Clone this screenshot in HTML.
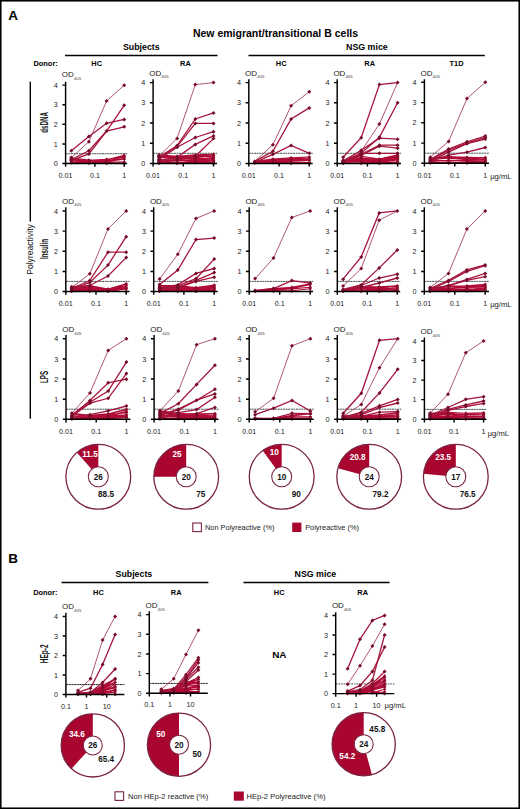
<!DOCTYPE html>
<html><head><meta charset="utf-8"><style>
html,body{margin:0;padding:0;background:#fff;}
body{width:520px;height:809px;overflow:hidden;font-family:"Liberation Sans", sans-serif;}
svg{display:block;}
</style></head><body>
<svg width="520" height="809" viewBox="0 0 520 809" font-family='"Liberation Sans", sans-serif'>
<rect x="0" y="0" width="520" height="809" fill="#fff"/>
<text x="8.2" y="20.2" font-size="13.5" font-weight="bold" fill="#000">A</text>
<text x="8.2" y="562.5" font-size="13.5" font-weight="bold" fill="#000">B</text>
<text x="275.5" y="37.2" font-size="10.5" font-weight="bold" text-anchor="middle" fill="#000">New emigrant/transitional B cells</text>
<text x="141.3" y="50.3" font-size="8.8" font-weight="bold" text-anchor="middle" fill="#000">Subjects</text>
<text x="366.9" y="50.3" font-size="8.8" font-weight="bold" text-anchor="middle" fill="#000">NSG mice</text>
<path d="M65 55.5H217.5M248.5 55.5H484.8M61.5 582.5H208.4M243.5 582.5H389.6" stroke="#000" stroke-width="1.5"/>
<text x="33.5" y="66.0" font-size="7.4" font-weight="bold" fill="#000">Donor:</text>
<text x="96.7" y="66.0" font-size="7.4" font-weight="bold" text-anchor="middle" fill="#000">HC</text>
<text x="185.4" y="66.0" font-size="7.4" font-weight="bold" text-anchor="middle" fill="#000">RA</text>
<text x="281.2" y="66.0" font-size="7.4" font-weight="bold" text-anchor="middle" fill="#000">HC</text>
<text x="369.7" y="66.0" font-size="7.4" font-weight="bold" text-anchor="middle" fill="#000">RA</text>
<text x="456.6" y="66.0" font-size="7.4" font-weight="bold" text-anchor="middle" fill="#000">T1D</text>
<path d="M30.3 81.7V221.6M30.3 278.8V418.8" stroke="#000" stroke-width="1.4"/>
<text transform="translate(32.6 249.5) rotate(-90)" font-size="8.6" text-anchor="middle" fill="#111">Polyreactivity</text>
<text transform="translate(47.9 122.4) rotate(-90) scale(0.575 1)" font-size="10.8" font-weight="bold" text-anchor="middle" fill="#111">dsDNA</text>
<text transform="translate(47.9 249) rotate(-90) scale(0.575 1)" font-size="10.8" font-weight="bold" text-anchor="middle" fill="#111">Insulin</text>
<text transform="translate(47.9 377) rotate(-90) scale(0.575 1)" font-size="10.8" font-weight="bold" text-anchor="middle" fill="#111">LPS</text>
<line x1="65.6" y1="153.7" x2="127.1" y2="153.7" stroke="#3a4541" stroke-width="0.95" stroke-dasharray="2 0.6"/>
<path d="M71.3 162.8L88.9 163.2L106.6 163.5L124.2 163.5M71.3 162.9L88.9 163.3L106.6 162.7L124.2 163.3M71.3 162.5L88.9 162.8L106.6 162.1L124.2 162.0M71.3 162.4L88.9 162.2L106.6 162.1L124.2 162.0M71.3 160.5L88.9 161.6L106.6 161.5L124.2 159.3M71.3 161.2L88.9 161.6L106.6 160.9L124.2 159.2M71.3 160.4L88.9 162.1L106.6 161.3L124.2 158.7M71.3 158.9L88.9 160.7L106.6 160.8L124.2 157.2M71.3 159.7L88.9 160.5L106.6 160.3L124.2 159.0M71.3 158.2L88.9 160.7L106.6 159.5L124.2 156.3M71.3 159.2L88.9 160.3L106.6 159.2L124.2 156.8M71.3 158.0L88.9 160.0L106.6 159.7L124.2 155.3" fill="none" stroke="#b00a36" stroke-width="1.15" stroke-linejoin="round"/>
<path d="M71.3 161.0l1.8 1.8l-1.8 1.8l-1.8 -1.8zM88.9 161.4l1.8 1.8l-1.8 1.8l-1.8 -1.8zM106.6 161.7l1.8 1.8l-1.8 1.8l-1.8 -1.8zM124.2 161.7l1.8 1.8l-1.8 1.8l-1.8 -1.8zM71.3 161.1l1.8 1.8l-1.8 1.8l-1.8 -1.8zM88.9 161.5l1.8 1.8l-1.8 1.8l-1.8 -1.8zM106.6 160.9l1.8 1.8l-1.8 1.8l-1.8 -1.8zM124.2 161.5l1.8 1.8l-1.8 1.8l-1.8 -1.8zM71.3 160.7l1.8 1.8l-1.8 1.8l-1.8 -1.8zM88.9 161.0l1.8 1.8l-1.8 1.8l-1.8 -1.8zM106.6 160.3l1.8 1.8l-1.8 1.8l-1.8 -1.8zM124.2 160.2l1.8 1.8l-1.8 1.8l-1.8 -1.8zM71.3 160.6l1.8 1.8l-1.8 1.8l-1.8 -1.8zM88.9 160.4l1.8 1.8l-1.8 1.8l-1.8 -1.8zM106.6 160.3l1.8 1.8l-1.8 1.8l-1.8 -1.8zM124.2 160.2l1.8 1.8l-1.8 1.8l-1.8 -1.8zM71.3 158.7l1.8 1.8l-1.8 1.8l-1.8 -1.8zM88.9 159.8l1.8 1.8l-1.8 1.8l-1.8 -1.8zM106.6 159.7l1.8 1.8l-1.8 1.8l-1.8 -1.8zM124.2 157.5l1.8 1.8l-1.8 1.8l-1.8 -1.8zM71.3 159.4l1.8 1.8l-1.8 1.8l-1.8 -1.8zM88.9 159.8l1.8 1.8l-1.8 1.8l-1.8 -1.8zM106.6 159.1l1.8 1.8l-1.8 1.8l-1.8 -1.8zM124.2 157.4l1.8 1.8l-1.8 1.8l-1.8 -1.8zM71.3 158.6l1.8 1.8l-1.8 1.8l-1.8 -1.8zM88.9 160.3l1.8 1.8l-1.8 1.8l-1.8 -1.8zM106.6 159.5l1.8 1.8l-1.8 1.8l-1.8 -1.8zM124.2 156.9l1.8 1.8l-1.8 1.8l-1.8 -1.8zM71.3 157.1l1.8 1.8l-1.8 1.8l-1.8 -1.8zM88.9 158.9l1.8 1.8l-1.8 1.8l-1.8 -1.8zM106.6 159.0l1.8 1.8l-1.8 1.8l-1.8 -1.8zM124.2 155.4l1.8 1.8l-1.8 1.8l-1.8 -1.8zM71.3 157.9l1.8 1.8l-1.8 1.8l-1.8 -1.8zM88.9 158.7l1.8 1.8l-1.8 1.8l-1.8 -1.8zM106.6 158.5l1.8 1.8l-1.8 1.8l-1.8 -1.8zM124.2 157.2l1.8 1.8l-1.8 1.8l-1.8 -1.8zM71.3 156.4l1.8 1.8l-1.8 1.8l-1.8 -1.8zM88.9 158.9l1.8 1.8l-1.8 1.8l-1.8 -1.8zM106.6 157.7l1.8 1.8l-1.8 1.8l-1.8 -1.8zM124.2 154.5l1.8 1.8l-1.8 1.8l-1.8 -1.8zM71.3 157.4l1.8 1.8l-1.8 1.8l-1.8 -1.8zM88.9 158.5l1.8 1.8l-1.8 1.8l-1.8 -1.8zM106.6 157.4l1.8 1.8l-1.8 1.8l-1.8 -1.8zM124.2 155.0l1.8 1.8l-1.8 1.8l-1.8 -1.8zM71.3 156.2l1.8 1.8l-1.8 1.8l-1.8 -1.8zM88.9 158.2l1.8 1.8l-1.8 1.8l-1.8 -1.8zM106.6 157.9l1.8 1.8l-1.8 1.8l-1.8 -1.8zM124.2 153.5l1.8 1.8l-1.8 1.8l-1.8 -1.8z" fill="#900a30"/>
<path d="M71.3 150.8L88.9 136.6L106.6 123.3L124.2 119.4" fill="none" stroke="#a5143c" stroke-width="1.3"/>
<path d="M71.3 157.6L88.9 141.7L106.6 101.0L124.2 85.3" fill="none" stroke="#9a2c4c" stroke-width="0.8"/>
<path d="M71.3 159.6L88.9 150.8L106.6 131.0L124.2 105.3" fill="none" stroke="#a5143c" stroke-width="1.3"/>
<path d="M71.3 160.6L88.9 153.9L106.6 131.0L124.2 126.8" fill="none" stroke="#a5143c" stroke-width="1.3"/>
<path d="M71.3 148.8l2.0 2.0l-2.0 2.0l-2.0 -2.0zM88.9 134.6l2.0 2.0l-2.0 2.0l-2.0 -2.0zM106.6 121.3l2.0 2.0l-2.0 2.0l-2.0 -2.0zM124.2 117.4l2.0 2.0l-2.0 2.0l-2.0 -2.0zM71.3 155.6l2.0 2.0l-2.0 2.0l-2.0 -2.0zM88.9 139.7l2.0 2.0l-2.0 2.0l-2.0 -2.0zM106.6 99.0l2.0 2.0l-2.0 2.0l-2.0 -2.0zM124.2 83.3l2.0 2.0l-2.0 2.0l-2.0 -2.0zM71.3 157.6l2.0 2.0l-2.0 2.0l-2.0 -2.0zM88.9 148.8l2.0 2.0l-2.0 2.0l-2.0 -2.0zM106.6 129.0l2.0 2.0l-2.0 2.0l-2.0 -2.0zM124.2 103.3l2.0 2.0l-2.0 2.0l-2.0 -2.0zM71.3 158.6l2.0 2.0l-2.0 2.0l-2.0 -2.0zM88.9 151.9l2.0 2.0l-2.0 2.0l-2.0 -2.0zM106.6 129.0l2.0 2.0l-2.0 2.0l-2.0 -2.0zM124.2 124.8l2.0 2.0l-2.0 2.0l-2.0 -2.0z" fill="#760c2c"/>
<path d="M65.6 81.7V166.7M62.4 163.5H127.1M62.4 143.9H65.6M62.4 124.3H65.6M62.4 104.7H65.6M62.4 85.1H65.6M94.9 163.5V166.7M124.2 163.5V166.7" stroke="#000" stroke-width="1.45" fill="none"/>
<text x="55.8" y="166.1" font-size="7.2" text-anchor="middle" fill="#222">0</text>
<text x="55.8" y="146.5" font-size="7.2" text-anchor="middle" fill="#222">1</text>
<text x="55.8" y="126.9" font-size="7.2" text-anchor="middle" fill="#222">2</text>
<text x="55.8" y="107.3" font-size="7.2" text-anchor="middle" fill="#222">3</text>
<text x="55.8" y="87.7" font-size="7.2" text-anchor="middle" fill="#222">4</text>
<text x="65.6" y="177.6" font-size="7.2" text-anchor="middle" fill="#222">0.01</text>
<text x="94.9" y="177.6" font-size="7.2" text-anchor="middle" fill="#222">0.1</text>
<text x="124.2" y="177.6" font-size="7.2" text-anchor="middle" fill="#222">1</text>
<text x="61.8" y="77.0" font-size="8" fill="#222">OD<tspan font-size="4.4" dy="2.8" fill="#444">405</tspan></text>
<line x1="153.1" y1="153.3" x2="217.1" y2="153.3" stroke="#3a4541" stroke-width="0.95" stroke-dasharray="2 0.6"/>
<path d="M159.0 163.4L177.1 162.5L195.3 162.6L213.5 163.4M159.0 162.8L177.1 163.1L195.3 162.4L213.5 161.8M159.0 163.4L177.1 163.4L195.3 161.2L213.5 162.4M159.0 160.9L177.1 163.3L195.3 161.9L213.5 160.9M159.0 162.0L177.1 160.4L195.3 159.9L213.5 162.5M159.0 162.0L177.1 160.9L195.3 159.2L213.5 160.8M159.0 160.9L177.1 160.8L195.3 161.4L213.5 160.7M159.0 159.6L177.1 160.1L195.3 160.3L213.5 160.0M159.0 159.7L177.1 159.7L195.3 159.5L213.5 160.1M159.0 157.3L177.1 159.0L195.3 157.9L213.5 159.0M159.0 156.2L177.1 157.8L195.3 158.9L213.5 157.9M159.0 156.5L177.1 157.7L195.3 155.8L213.5 157.0M159.0 155.6L177.1 157.3L195.3 157.2L213.5 155.8M159.0 154.9L177.1 156.4L195.3 156.0L213.5 155.2M159.0 156.9L177.1 157.5L195.3 154.9L213.5 155.2M159.0 155.9L177.1 156.3L195.3 154.9L213.5 154.3" fill="none" stroke="#b00a36" stroke-width="1.15" stroke-linejoin="round"/>
<path d="M159.0 161.6l1.8 1.8l-1.8 1.8l-1.8 -1.8zM177.1 160.7l1.8 1.8l-1.8 1.8l-1.8 -1.8zM195.3 160.8l1.8 1.8l-1.8 1.8l-1.8 -1.8zM213.5 161.6l1.8 1.8l-1.8 1.8l-1.8 -1.8zM159.0 161.0l1.8 1.8l-1.8 1.8l-1.8 -1.8zM177.1 161.3l1.8 1.8l-1.8 1.8l-1.8 -1.8zM195.3 160.6l1.8 1.8l-1.8 1.8l-1.8 -1.8zM213.5 160.0l1.8 1.8l-1.8 1.8l-1.8 -1.8zM159.0 161.6l1.8 1.8l-1.8 1.8l-1.8 -1.8zM177.1 161.6l1.8 1.8l-1.8 1.8l-1.8 -1.8zM195.3 159.4l1.8 1.8l-1.8 1.8l-1.8 -1.8zM213.5 160.6l1.8 1.8l-1.8 1.8l-1.8 -1.8zM159.0 159.1l1.8 1.8l-1.8 1.8l-1.8 -1.8zM177.1 161.5l1.8 1.8l-1.8 1.8l-1.8 -1.8zM195.3 160.1l1.8 1.8l-1.8 1.8l-1.8 -1.8zM213.5 159.1l1.8 1.8l-1.8 1.8l-1.8 -1.8zM159.0 160.2l1.8 1.8l-1.8 1.8l-1.8 -1.8zM177.1 158.6l1.8 1.8l-1.8 1.8l-1.8 -1.8zM195.3 158.1l1.8 1.8l-1.8 1.8l-1.8 -1.8zM213.5 160.7l1.8 1.8l-1.8 1.8l-1.8 -1.8zM159.0 160.2l1.8 1.8l-1.8 1.8l-1.8 -1.8zM177.1 159.1l1.8 1.8l-1.8 1.8l-1.8 -1.8zM195.3 157.4l1.8 1.8l-1.8 1.8l-1.8 -1.8zM213.5 159.0l1.8 1.8l-1.8 1.8l-1.8 -1.8zM159.0 159.1l1.8 1.8l-1.8 1.8l-1.8 -1.8zM177.1 159.0l1.8 1.8l-1.8 1.8l-1.8 -1.8zM195.3 159.6l1.8 1.8l-1.8 1.8l-1.8 -1.8zM213.5 158.9l1.8 1.8l-1.8 1.8l-1.8 -1.8zM159.0 157.8l1.8 1.8l-1.8 1.8l-1.8 -1.8zM177.1 158.3l1.8 1.8l-1.8 1.8l-1.8 -1.8zM195.3 158.5l1.8 1.8l-1.8 1.8l-1.8 -1.8zM213.5 158.2l1.8 1.8l-1.8 1.8l-1.8 -1.8zM159.0 157.9l1.8 1.8l-1.8 1.8l-1.8 -1.8zM177.1 157.9l1.8 1.8l-1.8 1.8l-1.8 -1.8zM195.3 157.7l1.8 1.8l-1.8 1.8l-1.8 -1.8zM213.5 158.3l1.8 1.8l-1.8 1.8l-1.8 -1.8zM159.0 155.5l1.8 1.8l-1.8 1.8l-1.8 -1.8zM177.1 157.2l1.8 1.8l-1.8 1.8l-1.8 -1.8zM195.3 156.1l1.8 1.8l-1.8 1.8l-1.8 -1.8zM213.5 157.2l1.8 1.8l-1.8 1.8l-1.8 -1.8zM159.0 154.4l1.8 1.8l-1.8 1.8l-1.8 -1.8zM177.1 156.0l1.8 1.8l-1.8 1.8l-1.8 -1.8zM195.3 157.1l1.8 1.8l-1.8 1.8l-1.8 -1.8zM213.5 156.1l1.8 1.8l-1.8 1.8l-1.8 -1.8zM159.0 154.7l1.8 1.8l-1.8 1.8l-1.8 -1.8zM177.1 155.9l1.8 1.8l-1.8 1.8l-1.8 -1.8zM195.3 154.0l1.8 1.8l-1.8 1.8l-1.8 -1.8zM213.5 155.2l1.8 1.8l-1.8 1.8l-1.8 -1.8zM159.0 153.8l1.8 1.8l-1.8 1.8l-1.8 -1.8zM177.1 155.5l1.8 1.8l-1.8 1.8l-1.8 -1.8zM195.3 155.4l1.8 1.8l-1.8 1.8l-1.8 -1.8zM213.5 154.0l1.8 1.8l-1.8 1.8l-1.8 -1.8zM159.0 153.1l1.8 1.8l-1.8 1.8l-1.8 -1.8zM177.1 154.6l1.8 1.8l-1.8 1.8l-1.8 -1.8zM195.3 154.2l1.8 1.8l-1.8 1.8l-1.8 -1.8zM213.5 153.4l1.8 1.8l-1.8 1.8l-1.8 -1.8zM159.0 155.1l1.8 1.8l-1.8 1.8l-1.8 -1.8zM177.1 155.7l1.8 1.8l-1.8 1.8l-1.8 -1.8zM195.3 153.1l1.8 1.8l-1.8 1.8l-1.8 -1.8zM213.5 153.4l1.8 1.8l-1.8 1.8l-1.8 -1.8zM159.0 154.1l1.8 1.8l-1.8 1.8l-1.8 -1.8zM177.1 154.5l1.8 1.8l-1.8 1.8l-1.8 -1.8zM195.3 153.1l1.8 1.8l-1.8 1.8l-1.8 -1.8zM213.5 152.5l1.8 1.8l-1.8 1.8l-1.8 -1.8z" fill="#900a30"/>
<path d="M159.0 156.3L177.1 138.4L195.3 84.6L213.5 82.6" fill="none" stroke="#9a2c4c" stroke-width="0.8"/>
<path d="M159.0 157.3L177.1 145.6L195.3 119.0L213.5 112.9" fill="none" stroke="#a5143c" stroke-width="1.3"/>
<path d="M159.0 157.3L177.1 146.6L195.3 123.4L213.5 123.4" fill="none" stroke="#a5143c" stroke-width="1.3"/>
<path d="M159.0 159.4L177.1 147.2L195.3 137.5L213.5 131.7" fill="none" stroke="#a5143c" stroke-width="1.3"/>
<path d="M159.0 160.4L177.1 157.3L195.3 144.4L213.5 135.9" fill="none" stroke="#a5143c" stroke-width="1.3"/>
<path d="M159.0 161.4L177.1 159.4L195.3 156.3L213.5 138.6" fill="none" stroke="#a5143c" stroke-width="1.3"/>
<path d="M159.0 154.3l2.0 2.0l-2.0 2.0l-2.0 -2.0zM177.1 136.4l2.0 2.0l-2.0 2.0l-2.0 -2.0zM195.3 82.6l2.0 2.0l-2.0 2.0l-2.0 -2.0zM213.5 80.6l2.0 2.0l-2.0 2.0l-2.0 -2.0zM159.0 155.3l2.0 2.0l-2.0 2.0l-2.0 -2.0zM177.1 143.6l2.0 2.0l-2.0 2.0l-2.0 -2.0zM195.3 117.0l2.0 2.0l-2.0 2.0l-2.0 -2.0zM213.5 110.9l2.0 2.0l-2.0 2.0l-2.0 -2.0zM159.0 155.3l2.0 2.0l-2.0 2.0l-2.0 -2.0zM177.1 144.6l2.0 2.0l-2.0 2.0l-2.0 -2.0zM195.3 121.4l2.0 2.0l-2.0 2.0l-2.0 -2.0zM213.5 121.4l2.0 2.0l-2.0 2.0l-2.0 -2.0zM159.0 157.4l2.0 2.0l-2.0 2.0l-2.0 -2.0zM177.1 145.2l2.0 2.0l-2.0 2.0l-2.0 -2.0zM195.3 135.5l2.0 2.0l-2.0 2.0l-2.0 -2.0zM213.5 129.7l2.0 2.0l-2.0 2.0l-2.0 -2.0zM159.0 158.4l2.0 2.0l-2.0 2.0l-2.0 -2.0zM177.1 155.3l2.0 2.0l-2.0 2.0l-2.0 -2.0zM195.3 142.4l2.0 2.0l-2.0 2.0l-2.0 -2.0zM213.5 133.9l2.0 2.0l-2.0 2.0l-2.0 -2.0zM159.0 159.4l2.0 2.0l-2.0 2.0l-2.0 -2.0zM177.1 157.4l2.0 2.0l-2.0 2.0l-2.0 -2.0zM195.3 154.3l2.0 2.0l-2.0 2.0l-2.0 -2.0zM213.5 136.6l2.0 2.0l-2.0 2.0l-2.0 -2.0z" fill="#760c2c"/>
<path d="M153.1 79.2V166.6M149.9 163.4H217.1M149.9 143.2H153.1M149.9 123.0H153.1M149.9 102.8H153.1M149.9 82.6H153.1M183.3 163.4V166.6M213.5 163.4V166.6" stroke="#000" stroke-width="1.45" fill="none"/>
<text x="143.3" y="166.0" font-size="7.2" text-anchor="middle" fill="#222">0</text>
<text x="143.3" y="145.8" font-size="7.2" text-anchor="middle" fill="#222">1</text>
<text x="143.3" y="125.6" font-size="7.2" text-anchor="middle" fill="#222">2</text>
<text x="143.3" y="105.4" font-size="7.2" text-anchor="middle" fill="#222">3</text>
<text x="143.3" y="85.2" font-size="7.2" text-anchor="middle" fill="#222">4</text>
<text x="153.1" y="177.6" font-size="7.2" text-anchor="middle" fill="#222">0.01</text>
<text x="183.3" y="177.6" font-size="7.2" text-anchor="middle" fill="#222">0.1</text>
<text x="213.5" y="177.6" font-size="7.2" text-anchor="middle" fill="#222">1</text>
<text x="149.3" y="75.6" font-size="8" fill="#222">OD<tspan font-size="4.4" dy="2.8" fill="#444">405</tspan></text>
<line x1="248.8" y1="153.3" x2="312.7" y2="153.3" stroke="#3a4541" stroke-width="0.95" stroke-dasharray="2 0.6"/>
<path d="M254.7 163.1L272.9 162.7L291.1 163.4L309.3 163.4M254.7 162.9L272.9 162.5L291.1 162.3L309.3 163.0M254.7 162.8L272.9 162.1L291.1 161.8L309.3 162.5M254.7 162.7L272.9 161.9L291.1 160.8L309.3 159.5M254.7 162.1L272.9 161.1L291.1 160.7L309.3 160.5M254.7 162.5L272.9 161.4L291.1 159.9L309.3 159.4M254.7 162.0L272.9 159.4L291.1 159.1L309.3 157.9M254.7 161.8L272.9 160.3L291.1 158.8L309.3 158.1M254.7 161.4L272.9 159.0L291.1 157.7L309.3 157.1" fill="none" stroke="#b00a36" stroke-width="1.15" stroke-linejoin="round"/>
<path d="M254.7 161.3l1.8 1.8l-1.8 1.8l-1.8 -1.8zM272.9 160.9l1.8 1.8l-1.8 1.8l-1.8 -1.8zM291.1 161.6l1.8 1.8l-1.8 1.8l-1.8 -1.8zM309.3 161.6l1.8 1.8l-1.8 1.8l-1.8 -1.8zM254.7 161.1l1.8 1.8l-1.8 1.8l-1.8 -1.8zM272.9 160.7l1.8 1.8l-1.8 1.8l-1.8 -1.8zM291.1 160.5l1.8 1.8l-1.8 1.8l-1.8 -1.8zM309.3 161.2l1.8 1.8l-1.8 1.8l-1.8 -1.8zM254.7 161.0l1.8 1.8l-1.8 1.8l-1.8 -1.8zM272.9 160.3l1.8 1.8l-1.8 1.8l-1.8 -1.8zM291.1 160.0l1.8 1.8l-1.8 1.8l-1.8 -1.8zM309.3 160.7l1.8 1.8l-1.8 1.8l-1.8 -1.8zM254.7 160.9l1.8 1.8l-1.8 1.8l-1.8 -1.8zM272.9 160.1l1.8 1.8l-1.8 1.8l-1.8 -1.8zM291.1 159.0l1.8 1.8l-1.8 1.8l-1.8 -1.8zM309.3 157.7l1.8 1.8l-1.8 1.8l-1.8 -1.8zM254.7 160.3l1.8 1.8l-1.8 1.8l-1.8 -1.8zM272.9 159.3l1.8 1.8l-1.8 1.8l-1.8 -1.8zM291.1 158.9l1.8 1.8l-1.8 1.8l-1.8 -1.8zM309.3 158.7l1.8 1.8l-1.8 1.8l-1.8 -1.8zM254.7 160.7l1.8 1.8l-1.8 1.8l-1.8 -1.8zM272.9 159.6l1.8 1.8l-1.8 1.8l-1.8 -1.8zM291.1 158.1l1.8 1.8l-1.8 1.8l-1.8 -1.8zM309.3 157.6l1.8 1.8l-1.8 1.8l-1.8 -1.8zM254.7 160.2l1.8 1.8l-1.8 1.8l-1.8 -1.8zM272.9 157.6l1.8 1.8l-1.8 1.8l-1.8 -1.8zM291.1 157.3l1.8 1.8l-1.8 1.8l-1.8 -1.8zM309.3 156.1l1.8 1.8l-1.8 1.8l-1.8 -1.8zM254.7 160.0l1.8 1.8l-1.8 1.8l-1.8 -1.8zM272.9 158.5l1.8 1.8l-1.8 1.8l-1.8 -1.8zM291.1 157.0l1.8 1.8l-1.8 1.8l-1.8 -1.8zM309.3 156.3l1.8 1.8l-1.8 1.8l-1.8 -1.8zM254.7 159.6l1.8 1.8l-1.8 1.8l-1.8 -1.8zM272.9 157.2l1.8 1.8l-1.8 1.8l-1.8 -1.8zM291.1 155.9l1.8 1.8l-1.8 1.8l-1.8 -1.8zM309.3 155.3l1.8 1.8l-1.8 1.8l-1.8 -1.8z" fill="#900a30"/>
<path d="M254.7 161.4L272.9 144.8L291.1 105.8L309.3 91.7" fill="none" stroke="#9a2c4c" stroke-width="0.8"/>
<path d="M254.7 161.4L272.9 151.3L291.1 119.0L309.3 107.9" fill="none" stroke="#a5143c" stroke-width="1.3"/>
<path d="M254.7 162.4L272.9 154.3L291.1 145.4L309.3 153.3" fill="none" stroke="#a5143c" stroke-width="1.3"/>
<path d="M254.7 159.4l2.0 2.0l-2.0 2.0l-2.0 -2.0zM272.9 142.8l2.0 2.0l-2.0 2.0l-2.0 -2.0zM291.1 103.8l2.0 2.0l-2.0 2.0l-2.0 -2.0zM309.3 89.7l2.0 2.0l-2.0 2.0l-2.0 -2.0zM254.7 159.4l2.0 2.0l-2.0 2.0l-2.0 -2.0zM272.9 149.3l2.0 2.0l-2.0 2.0l-2.0 -2.0zM291.1 117.0l2.0 2.0l-2.0 2.0l-2.0 -2.0zM309.3 105.9l2.0 2.0l-2.0 2.0l-2.0 -2.0zM254.7 160.4l2.0 2.0l-2.0 2.0l-2.0 -2.0zM272.9 152.3l2.0 2.0l-2.0 2.0l-2.0 -2.0zM291.1 143.4l2.0 2.0l-2.0 2.0l-2.0 -2.0zM309.3 151.3l2.0 2.0l-2.0 2.0l-2.0 -2.0z" fill="#760c2c"/>
<path d="M248.8 79.2V166.6M245.6 163.4H312.7M245.6 143.2H248.8M245.6 123.0H248.8M245.6 102.8H248.8M245.6 82.6H248.8M279.1 163.4V166.6M309.3 163.4V166.6" stroke="#000" stroke-width="1.45" fill="none"/>
<text x="239.0" y="166.0" font-size="7.2" text-anchor="middle" fill="#222">0</text>
<text x="239.0" y="145.8" font-size="7.2" text-anchor="middle" fill="#222">1</text>
<text x="239.0" y="125.6" font-size="7.2" text-anchor="middle" fill="#222">2</text>
<text x="239.0" y="105.4" font-size="7.2" text-anchor="middle" fill="#222">3</text>
<text x="239.0" y="85.2" font-size="7.2" text-anchor="middle" fill="#222">4</text>
<text x="248.8" y="177.6" font-size="7.2" text-anchor="middle" fill="#222">0.01</text>
<text x="279.1" y="177.6" font-size="7.2" text-anchor="middle" fill="#222">0.1</text>
<text x="309.3" y="177.6" font-size="7.2" text-anchor="middle" fill="#222">1</text>
<text x="245.0" y="75.6" font-size="8" fill="#222">OD<tspan font-size="4.4" dy="2.8" fill="#444">405</tspan></text>
<line x1="337.2" y1="153.3" x2="401.0" y2="153.3" stroke="#3a4541" stroke-width="0.95" stroke-dasharray="2 0.6"/>
<path d="M343.1 163.4L361.2 163.3L379.4 163.4L397.6 163.1M343.1 163.0L361.2 163.4L379.4 163.4L397.6 161.7M343.1 163.2L361.2 163.0L379.4 161.9L397.6 162.2M343.1 162.3L361.2 161.8L379.4 162.2L397.6 162.5M343.1 162.3L361.2 160.3L379.4 162.0L397.6 160.1M343.1 162.0L361.2 161.8L379.4 161.3L397.6 159.9M343.1 162.2L361.2 161.3L379.4 160.8L397.6 159.6M343.1 161.5L361.2 158.6L379.4 160.7L397.6 157.5M343.1 161.6L361.2 158.3L379.4 160.8L397.6 156.8M343.1 160.9L361.2 159.5L379.4 160.9L397.6 158.4M343.1 160.6L361.2 158.1L379.4 159.8L397.6 157.5M343.1 160.8L361.2 157.7L379.4 159.9L397.6 156.0M343.1 160.5L361.2 156.3L379.4 159.0L397.6 154.9M343.1 160.4L361.2 156.3L379.4 159.0L397.6 155.9" fill="none" stroke="#b00a36" stroke-width="1.15" stroke-linejoin="round"/>
<path d="M343.1 161.6l1.8 1.8l-1.8 1.8l-1.8 -1.8zM361.2 161.5l1.8 1.8l-1.8 1.8l-1.8 -1.8zM379.4 161.6l1.8 1.8l-1.8 1.8l-1.8 -1.8zM397.6 161.3l1.8 1.8l-1.8 1.8l-1.8 -1.8zM343.1 161.2l1.8 1.8l-1.8 1.8l-1.8 -1.8zM361.2 161.6l1.8 1.8l-1.8 1.8l-1.8 -1.8zM379.4 161.6l1.8 1.8l-1.8 1.8l-1.8 -1.8zM397.6 159.9l1.8 1.8l-1.8 1.8l-1.8 -1.8zM343.1 161.4l1.8 1.8l-1.8 1.8l-1.8 -1.8zM361.2 161.2l1.8 1.8l-1.8 1.8l-1.8 -1.8zM379.4 160.1l1.8 1.8l-1.8 1.8l-1.8 -1.8zM397.6 160.4l1.8 1.8l-1.8 1.8l-1.8 -1.8zM343.1 160.5l1.8 1.8l-1.8 1.8l-1.8 -1.8zM361.2 160.0l1.8 1.8l-1.8 1.8l-1.8 -1.8zM379.4 160.4l1.8 1.8l-1.8 1.8l-1.8 -1.8zM397.6 160.7l1.8 1.8l-1.8 1.8l-1.8 -1.8zM343.1 160.5l1.8 1.8l-1.8 1.8l-1.8 -1.8zM361.2 158.5l1.8 1.8l-1.8 1.8l-1.8 -1.8zM379.4 160.2l1.8 1.8l-1.8 1.8l-1.8 -1.8zM397.6 158.3l1.8 1.8l-1.8 1.8l-1.8 -1.8zM343.1 160.2l1.8 1.8l-1.8 1.8l-1.8 -1.8zM361.2 160.0l1.8 1.8l-1.8 1.8l-1.8 -1.8zM379.4 159.5l1.8 1.8l-1.8 1.8l-1.8 -1.8zM397.6 158.1l1.8 1.8l-1.8 1.8l-1.8 -1.8zM343.1 160.4l1.8 1.8l-1.8 1.8l-1.8 -1.8zM361.2 159.5l1.8 1.8l-1.8 1.8l-1.8 -1.8zM379.4 159.0l1.8 1.8l-1.8 1.8l-1.8 -1.8zM397.6 157.8l1.8 1.8l-1.8 1.8l-1.8 -1.8zM343.1 159.7l1.8 1.8l-1.8 1.8l-1.8 -1.8zM361.2 156.8l1.8 1.8l-1.8 1.8l-1.8 -1.8zM379.4 158.9l1.8 1.8l-1.8 1.8l-1.8 -1.8zM397.6 155.7l1.8 1.8l-1.8 1.8l-1.8 -1.8zM343.1 159.8l1.8 1.8l-1.8 1.8l-1.8 -1.8zM361.2 156.5l1.8 1.8l-1.8 1.8l-1.8 -1.8zM379.4 159.0l1.8 1.8l-1.8 1.8l-1.8 -1.8zM397.6 155.0l1.8 1.8l-1.8 1.8l-1.8 -1.8zM343.1 159.1l1.8 1.8l-1.8 1.8l-1.8 -1.8zM361.2 157.7l1.8 1.8l-1.8 1.8l-1.8 -1.8zM379.4 159.1l1.8 1.8l-1.8 1.8l-1.8 -1.8zM397.6 156.6l1.8 1.8l-1.8 1.8l-1.8 -1.8zM343.1 158.8l1.8 1.8l-1.8 1.8l-1.8 -1.8zM361.2 156.3l1.8 1.8l-1.8 1.8l-1.8 -1.8zM379.4 158.0l1.8 1.8l-1.8 1.8l-1.8 -1.8zM397.6 155.7l1.8 1.8l-1.8 1.8l-1.8 -1.8zM343.1 159.0l1.8 1.8l-1.8 1.8l-1.8 -1.8zM361.2 155.9l1.8 1.8l-1.8 1.8l-1.8 -1.8zM379.4 158.1l1.8 1.8l-1.8 1.8l-1.8 -1.8zM397.6 154.2l1.8 1.8l-1.8 1.8l-1.8 -1.8zM343.1 158.7l1.8 1.8l-1.8 1.8l-1.8 -1.8zM361.2 154.5l1.8 1.8l-1.8 1.8l-1.8 -1.8zM379.4 157.2l1.8 1.8l-1.8 1.8l-1.8 -1.8zM397.6 153.1l1.8 1.8l-1.8 1.8l-1.8 -1.8zM343.1 158.6l1.8 1.8l-1.8 1.8l-1.8 -1.8zM361.2 154.5l1.8 1.8l-1.8 1.8l-1.8 -1.8zM379.4 157.2l1.8 1.8l-1.8 1.8l-1.8 -1.8zM397.6 154.1l1.8 1.8l-1.8 1.8l-1.8 -1.8z" fill="#900a30"/>
<path d="M343.1 157.3L361.2 137.7L379.4 84.6L397.6 82.6" fill="none" stroke="#a5143c" stroke-width="1.3"/>
<path d="M343.1 160.4L361.2 151.3L379.4 124.0L397.6 82.6" fill="none" stroke="#9a2c4c" stroke-width="0.8"/>
<path d="M343.1 161.4L361.2 153.3L379.4 137.3L397.6 102.8" fill="none" stroke="#a5143c" stroke-width="1.3"/>
<path d="M343.1 161.4L361.2 150.3L379.4 138.2L397.6 139.2" fill="none" stroke="#a5143c" stroke-width="1.3"/>
<path d="M343.1 161.4L361.2 154.3L379.4 145.2L397.6 145.2" fill="none" stroke="#a5143c" stroke-width="1.3"/>
<path d="M343.1 161.4L361.2 155.3L379.4 146.2L397.6 148.2" fill="none" stroke="#a5143c" stroke-width="1.3"/>
<path d="M343.1 162.4L361.2 153.3L379.4 153.3L397.6 153.3" fill="none" stroke="#a5143c" stroke-width="1.3"/>
<path d="M343.1 155.3l2.0 2.0l-2.0 2.0l-2.0 -2.0zM361.2 135.7l2.0 2.0l-2.0 2.0l-2.0 -2.0zM379.4 82.6l2.0 2.0l-2.0 2.0l-2.0 -2.0zM397.6 80.6l2.0 2.0l-2.0 2.0l-2.0 -2.0zM343.1 158.4l2.0 2.0l-2.0 2.0l-2.0 -2.0zM361.2 149.3l2.0 2.0l-2.0 2.0l-2.0 -2.0zM379.4 122.0l2.0 2.0l-2.0 2.0l-2.0 -2.0zM397.6 80.6l2.0 2.0l-2.0 2.0l-2.0 -2.0zM343.1 159.4l2.0 2.0l-2.0 2.0l-2.0 -2.0zM361.2 151.3l2.0 2.0l-2.0 2.0l-2.0 -2.0zM379.4 135.3l2.0 2.0l-2.0 2.0l-2.0 -2.0zM397.6 100.8l2.0 2.0l-2.0 2.0l-2.0 -2.0zM343.1 159.4l2.0 2.0l-2.0 2.0l-2.0 -2.0zM361.2 148.3l2.0 2.0l-2.0 2.0l-2.0 -2.0zM379.4 136.2l2.0 2.0l-2.0 2.0l-2.0 -2.0zM397.6 137.2l2.0 2.0l-2.0 2.0l-2.0 -2.0zM343.1 159.4l2.0 2.0l-2.0 2.0l-2.0 -2.0zM361.2 152.3l2.0 2.0l-2.0 2.0l-2.0 -2.0zM379.4 143.2l2.0 2.0l-2.0 2.0l-2.0 -2.0zM397.6 143.2l2.0 2.0l-2.0 2.0l-2.0 -2.0zM343.1 159.4l2.0 2.0l-2.0 2.0l-2.0 -2.0zM361.2 153.3l2.0 2.0l-2.0 2.0l-2.0 -2.0zM379.4 144.2l2.0 2.0l-2.0 2.0l-2.0 -2.0zM397.6 146.2l2.0 2.0l-2.0 2.0l-2.0 -2.0zM343.1 160.4l2.0 2.0l-2.0 2.0l-2.0 -2.0zM361.2 151.3l2.0 2.0l-2.0 2.0l-2.0 -2.0zM379.4 151.3l2.0 2.0l-2.0 2.0l-2.0 -2.0zM397.6 151.3l2.0 2.0l-2.0 2.0l-2.0 -2.0z" fill="#760c2c"/>
<path d="M337.2 79.2V166.6M334.0 163.4H401.0M334.0 143.2H337.2M334.0 123.0H337.2M334.0 102.8H337.2M334.0 82.6H337.2M367.4 163.4V166.6M397.6 163.4V166.6" stroke="#000" stroke-width="1.45" fill="none"/>
<text x="327.4" y="166.0" font-size="7.2" text-anchor="middle" fill="#222">0</text>
<text x="327.4" y="145.8" font-size="7.2" text-anchor="middle" fill="#222">1</text>
<text x="327.4" y="125.6" font-size="7.2" text-anchor="middle" fill="#222">2</text>
<text x="327.4" y="105.4" font-size="7.2" text-anchor="middle" fill="#222">3</text>
<text x="327.4" y="85.2" font-size="7.2" text-anchor="middle" fill="#222">4</text>
<text x="337.2" y="177.6" font-size="7.2" text-anchor="middle" fill="#222">0.01</text>
<text x="367.4" y="177.6" font-size="7.2" text-anchor="middle" fill="#222">0.1</text>
<text x="397.6" y="177.6" font-size="7.2" text-anchor="middle" fill="#222">1</text>
<text x="333.4" y="75.6" font-size="8" fill="#222">OD<tspan font-size="4.4" dy="2.8" fill="#444">405</tspan></text>
<line x1="424.4" y1="153.2" x2="489.0" y2="153.2" stroke="#3a4541" stroke-width="0.95" stroke-dasharray="2 0.6"/>
<path d="M430.3 163.3L448.6 163.3L467.0 163.3L485.3 163.3M430.3 163.3L448.6 163.0L467.0 161.9L485.3 162.2M430.3 162.0L448.6 162.9L467.0 162.3L485.3 162.9M430.3 162.7L448.6 162.7L467.0 162.5L485.3 161.0M430.3 161.1L448.6 160.3L467.0 160.8L485.3 162.1M430.3 161.7L448.6 160.3L467.0 160.5L485.3 160.2M430.3 160.3L448.6 161.1L467.0 160.3L485.3 160.1M430.3 160.6L448.6 160.3L467.0 160.1L485.3 160.9M430.3 159.4L448.6 158.0L467.0 159.5L485.3 160.0M430.3 159.1L448.6 158.2L467.0 158.3L485.3 158.3M430.3 159.4L448.6 158.1L467.0 158.4L485.3 158.8M430.3 159.6L448.6 157.8L467.0 157.5L485.3 159.2M430.3 159.5L448.6 156.4L467.0 158.2L485.3 157.6M430.3 158.3L448.6 156.6L467.0 157.2L485.3 157.9" fill="none" stroke="#b00a36" stroke-width="1.15" stroke-linejoin="round"/>
<path d="M430.3 161.5l1.8 1.8l-1.8 1.8l-1.8 -1.8zM448.6 161.5l1.8 1.8l-1.8 1.8l-1.8 -1.8zM467.0 161.5l1.8 1.8l-1.8 1.8l-1.8 -1.8zM485.3 161.5l1.8 1.8l-1.8 1.8l-1.8 -1.8zM430.3 161.5l1.8 1.8l-1.8 1.8l-1.8 -1.8zM448.6 161.2l1.8 1.8l-1.8 1.8l-1.8 -1.8zM467.0 160.1l1.8 1.8l-1.8 1.8l-1.8 -1.8zM485.3 160.4l1.8 1.8l-1.8 1.8l-1.8 -1.8zM430.3 160.2l1.8 1.8l-1.8 1.8l-1.8 -1.8zM448.6 161.1l1.8 1.8l-1.8 1.8l-1.8 -1.8zM467.0 160.5l1.8 1.8l-1.8 1.8l-1.8 -1.8zM485.3 161.1l1.8 1.8l-1.8 1.8l-1.8 -1.8zM430.3 160.9l1.8 1.8l-1.8 1.8l-1.8 -1.8zM448.6 160.9l1.8 1.8l-1.8 1.8l-1.8 -1.8zM467.0 160.7l1.8 1.8l-1.8 1.8l-1.8 -1.8zM485.3 159.2l1.8 1.8l-1.8 1.8l-1.8 -1.8zM430.3 159.3l1.8 1.8l-1.8 1.8l-1.8 -1.8zM448.6 158.5l1.8 1.8l-1.8 1.8l-1.8 -1.8zM467.0 159.0l1.8 1.8l-1.8 1.8l-1.8 -1.8zM485.3 160.3l1.8 1.8l-1.8 1.8l-1.8 -1.8zM430.3 159.9l1.8 1.8l-1.8 1.8l-1.8 -1.8zM448.6 158.5l1.8 1.8l-1.8 1.8l-1.8 -1.8zM467.0 158.7l1.8 1.8l-1.8 1.8l-1.8 -1.8zM485.3 158.4l1.8 1.8l-1.8 1.8l-1.8 -1.8zM430.3 158.5l1.8 1.8l-1.8 1.8l-1.8 -1.8zM448.6 159.3l1.8 1.8l-1.8 1.8l-1.8 -1.8zM467.0 158.5l1.8 1.8l-1.8 1.8l-1.8 -1.8zM485.3 158.3l1.8 1.8l-1.8 1.8l-1.8 -1.8zM430.3 158.8l1.8 1.8l-1.8 1.8l-1.8 -1.8zM448.6 158.5l1.8 1.8l-1.8 1.8l-1.8 -1.8zM467.0 158.3l1.8 1.8l-1.8 1.8l-1.8 -1.8zM485.3 159.1l1.8 1.8l-1.8 1.8l-1.8 -1.8zM430.3 157.6l1.8 1.8l-1.8 1.8l-1.8 -1.8zM448.6 156.2l1.8 1.8l-1.8 1.8l-1.8 -1.8zM467.0 157.7l1.8 1.8l-1.8 1.8l-1.8 -1.8zM485.3 158.2l1.8 1.8l-1.8 1.8l-1.8 -1.8zM430.3 157.3l1.8 1.8l-1.8 1.8l-1.8 -1.8zM448.6 156.4l1.8 1.8l-1.8 1.8l-1.8 -1.8zM467.0 156.5l1.8 1.8l-1.8 1.8l-1.8 -1.8zM485.3 156.5l1.8 1.8l-1.8 1.8l-1.8 -1.8zM430.3 157.6l1.8 1.8l-1.8 1.8l-1.8 -1.8zM448.6 156.3l1.8 1.8l-1.8 1.8l-1.8 -1.8zM467.0 156.6l1.8 1.8l-1.8 1.8l-1.8 -1.8zM485.3 157.0l1.8 1.8l-1.8 1.8l-1.8 -1.8zM430.3 157.8l1.8 1.8l-1.8 1.8l-1.8 -1.8zM448.6 156.0l1.8 1.8l-1.8 1.8l-1.8 -1.8zM467.0 155.7l1.8 1.8l-1.8 1.8l-1.8 -1.8zM485.3 157.4l1.8 1.8l-1.8 1.8l-1.8 -1.8zM430.3 157.7l1.8 1.8l-1.8 1.8l-1.8 -1.8zM448.6 154.6l1.8 1.8l-1.8 1.8l-1.8 -1.8zM467.0 156.4l1.8 1.8l-1.8 1.8l-1.8 -1.8zM485.3 155.8l1.8 1.8l-1.8 1.8l-1.8 -1.8zM430.3 156.5l1.8 1.8l-1.8 1.8l-1.8 -1.8zM448.6 154.8l1.8 1.8l-1.8 1.8l-1.8 -1.8zM467.0 155.4l1.8 1.8l-1.8 1.8l-1.8 -1.8zM485.3 156.1l1.8 1.8l-1.8 1.8l-1.8 -1.8z" fill="#900a30"/>
<path d="M430.3 157.2L448.6 141.4L467.0 98.5L485.3 82.3" fill="none" stroke="#9a2c4c" stroke-width="0.8"/>
<path d="M430.3 159.2L448.6 149.1L467.0 141.8L485.3 136.0" fill="none" stroke="#a5143c" stroke-width="1.3"/>
<path d="M430.3 160.3L448.6 150.1L467.0 143.1L485.3 137.4" fill="none" stroke="#a5143c" stroke-width="1.3"/>
<path d="M430.3 161.3L448.6 152.2L467.0 143.7L485.3 139.0" fill="none" stroke="#a5143c" stroke-width="1.3"/>
<path d="M430.3 161.3L448.6 155.2L467.0 152.2L485.3 147.5" fill="none" stroke="#a5143c" stroke-width="1.3"/>
<path d="M430.3 155.2l2.0 2.0l-2.0 2.0l-2.0 -2.0zM448.6 139.4l2.0 2.0l-2.0 2.0l-2.0 -2.0zM467.0 96.5l2.0 2.0l-2.0 2.0l-2.0 -2.0zM485.3 80.3l2.0 2.0l-2.0 2.0l-2.0 -2.0zM430.3 157.2l2.0 2.0l-2.0 2.0l-2.0 -2.0zM448.6 147.1l2.0 2.0l-2.0 2.0l-2.0 -2.0zM467.0 139.8l2.0 2.0l-2.0 2.0l-2.0 -2.0zM485.3 134.0l2.0 2.0l-2.0 2.0l-2.0 -2.0zM430.3 158.3l2.0 2.0l-2.0 2.0l-2.0 -2.0zM448.6 148.1l2.0 2.0l-2.0 2.0l-2.0 -2.0zM467.0 141.1l2.0 2.0l-2.0 2.0l-2.0 -2.0zM485.3 135.4l2.0 2.0l-2.0 2.0l-2.0 -2.0zM430.3 159.3l2.0 2.0l-2.0 2.0l-2.0 -2.0zM448.6 150.2l2.0 2.0l-2.0 2.0l-2.0 -2.0zM467.0 141.7l2.0 2.0l-2.0 2.0l-2.0 -2.0zM485.3 137.0l2.0 2.0l-2.0 2.0l-2.0 -2.0zM430.3 159.3l2.0 2.0l-2.0 2.0l-2.0 -2.0zM448.6 153.2l2.0 2.0l-2.0 2.0l-2.0 -2.0zM467.0 150.2l2.0 2.0l-2.0 2.0l-2.0 -2.0zM485.3 145.5l2.0 2.0l-2.0 2.0l-2.0 -2.0z" fill="#760c2c"/>
<path d="M424.4 79.2V166.5M421.2 163.3H489.0M421.2 143.1H424.4M421.2 122.8H424.4M421.2 102.6H424.4M421.2 82.3H424.4M454.8 163.3V166.5M485.3 163.3V166.5" stroke="#000" stroke-width="1.45" fill="none"/>
<text x="414.6" y="165.9" font-size="7.2" text-anchor="middle" fill="#222">0</text>
<text x="414.6" y="145.7" font-size="7.2" text-anchor="middle" fill="#222">1</text>
<text x="414.6" y="125.4" font-size="7.2" text-anchor="middle" fill="#222">2</text>
<text x="414.6" y="105.2" font-size="7.2" text-anchor="middle" fill="#222">3</text>
<text x="414.6" y="84.9" font-size="7.2" text-anchor="middle" fill="#222">4</text>
<text x="424.4" y="177.6" font-size="7.2" text-anchor="middle" fill="#222">0.01</text>
<text x="454.8" y="177.6" font-size="7.2" text-anchor="middle" fill="#222">0.1</text>
<text x="485.3" y="177.6" font-size="7.2" text-anchor="middle" fill="#222">1</text>
<text x="490.2" y="179.4" font-size="7.6" fill="#222">µg/mL</text>
<text x="420.6" y="75.6" font-size="8" fill="#222">OD<tspan font-size="4.4" dy="2.8" fill="#444">405</tspan></text>
<line x1="65.8" y1="281.4" x2="129.6" y2="281.4" stroke="#3a4541" stroke-width="0.95" stroke-dasharray="2 0.6"/>
<path d="M71.7 291.4L89.8 291.5L108.0 291.4L126.2 291.5M71.7 290.5L89.8 290.2L108.0 291.1L126.2 291.5M71.7 290.5L89.8 290.8L108.0 291.3L126.2 288.9M71.7 289.2L89.8 290.8L108.0 290.5L126.2 289.1M71.7 289.9L89.8 289.8L108.0 290.5L126.2 288.8M71.7 288.9L89.8 288.4L108.0 290.7L126.2 287.3M71.7 287.9L89.8 287.2L108.0 290.1L126.2 288.6M71.7 289.2L89.8 288.4L108.0 289.6L126.2 287.2M71.7 288.1L89.8 286.2L108.0 289.9L126.2 285.8M71.7 287.5L89.8 287.5L108.0 289.4L126.2 284.3M71.7 287.5L89.8 286.6L108.0 289.4L126.2 285.8M71.7 286.5L89.8 285.5L108.0 289.1L126.2 283.8" fill="none" stroke="#b00a36" stroke-width="1.15" stroke-linejoin="round"/>
<path d="M71.7 289.6l1.8 1.8l-1.8 1.8l-1.8 -1.8zM89.8 289.7l1.8 1.8l-1.8 1.8l-1.8 -1.8zM108.0 289.6l1.8 1.8l-1.8 1.8l-1.8 -1.8zM126.2 289.7l1.8 1.8l-1.8 1.8l-1.8 -1.8zM71.7 288.7l1.8 1.8l-1.8 1.8l-1.8 -1.8zM89.8 288.4l1.8 1.8l-1.8 1.8l-1.8 -1.8zM108.0 289.3l1.8 1.8l-1.8 1.8l-1.8 -1.8zM126.2 289.7l1.8 1.8l-1.8 1.8l-1.8 -1.8zM71.7 288.7l1.8 1.8l-1.8 1.8l-1.8 -1.8zM89.8 289.0l1.8 1.8l-1.8 1.8l-1.8 -1.8zM108.0 289.5l1.8 1.8l-1.8 1.8l-1.8 -1.8zM126.2 287.1l1.8 1.8l-1.8 1.8l-1.8 -1.8zM71.7 287.4l1.8 1.8l-1.8 1.8l-1.8 -1.8zM89.8 289.0l1.8 1.8l-1.8 1.8l-1.8 -1.8zM108.0 288.7l1.8 1.8l-1.8 1.8l-1.8 -1.8zM126.2 287.3l1.8 1.8l-1.8 1.8l-1.8 -1.8zM71.7 288.1l1.8 1.8l-1.8 1.8l-1.8 -1.8zM89.8 288.0l1.8 1.8l-1.8 1.8l-1.8 -1.8zM108.0 288.7l1.8 1.8l-1.8 1.8l-1.8 -1.8zM126.2 287.0l1.8 1.8l-1.8 1.8l-1.8 -1.8zM71.7 287.1l1.8 1.8l-1.8 1.8l-1.8 -1.8zM89.8 286.6l1.8 1.8l-1.8 1.8l-1.8 -1.8zM108.0 288.9l1.8 1.8l-1.8 1.8l-1.8 -1.8zM126.2 285.5l1.8 1.8l-1.8 1.8l-1.8 -1.8zM71.7 286.1l1.8 1.8l-1.8 1.8l-1.8 -1.8zM89.8 285.4l1.8 1.8l-1.8 1.8l-1.8 -1.8zM108.0 288.3l1.8 1.8l-1.8 1.8l-1.8 -1.8zM126.2 286.8l1.8 1.8l-1.8 1.8l-1.8 -1.8zM71.7 287.4l1.8 1.8l-1.8 1.8l-1.8 -1.8zM89.8 286.6l1.8 1.8l-1.8 1.8l-1.8 -1.8zM108.0 287.8l1.8 1.8l-1.8 1.8l-1.8 -1.8zM126.2 285.4l1.8 1.8l-1.8 1.8l-1.8 -1.8zM71.7 286.3l1.8 1.8l-1.8 1.8l-1.8 -1.8zM89.8 284.4l1.8 1.8l-1.8 1.8l-1.8 -1.8zM108.0 288.1l1.8 1.8l-1.8 1.8l-1.8 -1.8zM126.2 284.0l1.8 1.8l-1.8 1.8l-1.8 -1.8zM71.7 285.7l1.8 1.8l-1.8 1.8l-1.8 -1.8zM89.8 285.7l1.8 1.8l-1.8 1.8l-1.8 -1.8zM108.0 287.6l1.8 1.8l-1.8 1.8l-1.8 -1.8zM126.2 282.5l1.8 1.8l-1.8 1.8l-1.8 -1.8zM71.7 285.7l1.8 1.8l-1.8 1.8l-1.8 -1.8zM89.8 284.8l1.8 1.8l-1.8 1.8l-1.8 -1.8zM108.0 287.6l1.8 1.8l-1.8 1.8l-1.8 -1.8zM126.2 284.0l1.8 1.8l-1.8 1.8l-1.8 -1.8zM71.7 284.7l1.8 1.8l-1.8 1.8l-1.8 -1.8zM89.8 283.7l1.8 1.8l-1.8 1.8l-1.8 -1.8zM108.0 287.3l1.8 1.8l-1.8 1.8l-1.8 -1.8zM126.2 282.0l1.8 1.8l-1.8 1.8l-1.8 -1.8z" fill="#900a30"/>
<path d="M71.7 287.5L89.8 273.8L108.0 229.0L126.2 210.9" fill="none" stroke="#9a2c4c" stroke-width="0.8"/>
<path d="M71.7 288.5L89.8 280.6L108.0 252.2L126.2 252.2" fill="none" stroke="#a5143c" stroke-width="1.3"/>
<path d="M71.7 289.5L89.8 282.4L108.0 265.1L126.2 236.7" fill="none" stroke="#a5143c" stroke-width="1.3"/>
<path d="M71.7 289.5L89.8 285.5L108.0 276.0L126.2 257.6" fill="none" stroke="#a5143c" stroke-width="1.3"/>
<path d="M71.7 285.5l2.0 2.0l-2.0 2.0l-2.0 -2.0zM89.8 271.8l2.0 2.0l-2.0 2.0l-2.0 -2.0zM108.0 227.0l2.0 2.0l-2.0 2.0l-2.0 -2.0zM126.2 208.9l2.0 2.0l-2.0 2.0l-2.0 -2.0zM71.7 286.5l2.0 2.0l-2.0 2.0l-2.0 -2.0zM89.8 278.6l2.0 2.0l-2.0 2.0l-2.0 -2.0zM108.0 250.2l2.0 2.0l-2.0 2.0l-2.0 -2.0zM126.2 250.2l2.0 2.0l-2.0 2.0l-2.0 -2.0zM71.7 287.5l2.0 2.0l-2.0 2.0l-2.0 -2.0zM89.8 280.4l2.0 2.0l-2.0 2.0l-2.0 -2.0zM108.0 263.1l2.0 2.0l-2.0 2.0l-2.0 -2.0zM126.2 234.7l2.0 2.0l-2.0 2.0l-2.0 -2.0zM71.7 287.5l2.0 2.0l-2.0 2.0l-2.0 -2.0zM89.8 283.5l2.0 2.0l-2.0 2.0l-2.0 -2.0zM108.0 274.0l2.0 2.0l-2.0 2.0l-2.0 -2.0zM126.2 255.6l2.0 2.0l-2.0 2.0l-2.0 -2.0z" fill="#760c2c"/>
<path d="M65.8 207.2V294.7M62.6 291.5H129.6M62.6 271.4H65.8M62.6 251.2H65.8M62.6 231.1H65.8M62.6 210.9H65.8M96.0 291.5V294.7M126.2 291.5V294.7" stroke="#000" stroke-width="1.45" fill="none"/>
<text x="56.0" y="294.1" font-size="7.2" text-anchor="middle" fill="#222">0</text>
<text x="56.0" y="274.0" font-size="7.2" text-anchor="middle" fill="#222">1</text>
<text x="56.0" y="253.8" font-size="7.2" text-anchor="middle" fill="#222">2</text>
<text x="56.0" y="233.7" font-size="7.2" text-anchor="middle" fill="#222">3</text>
<text x="56.0" y="213.5" font-size="7.2" text-anchor="middle" fill="#222">4</text>
<text x="65.8" y="305.6" font-size="7.2" text-anchor="middle" fill="#222">0.01</text>
<text x="96.0" y="305.6" font-size="7.2" text-anchor="middle" fill="#222">0.1</text>
<text x="126.2" y="305.6" font-size="7.2" text-anchor="middle" fill="#222">1</text>
<text x="62.0" y="203.6" font-size="8" fill="#222">OD<tspan font-size="4.4" dy="2.8" fill="#444">405</tspan></text>
<line x1="153.7" y1="281.4" x2="217.7" y2="281.4" stroke="#3a4541" stroke-width="0.95" stroke-dasharray="2 0.6"/>
<path d="M159.6 291.5L177.8 291.4L196.0 290.9L214.2 291.5M159.6 291.1L177.8 290.9L196.0 291.5L214.2 291.0M159.6 290.4L177.8 290.0L196.0 291.5L214.2 291.0M159.6 291.1L177.8 289.5L196.0 290.4L214.2 291.2M159.6 288.7L177.8 288.8L196.0 290.1L214.2 289.2M159.6 290.1L177.8 290.4L196.0 290.0L214.2 290.1M159.6 289.6L177.8 289.5L196.0 290.5L214.2 288.6M159.6 288.6L177.8 287.7L196.0 289.5L214.2 287.6M159.6 288.0L177.8 287.7L196.0 289.3L214.2 288.0M159.6 286.5L177.8 286.5L196.0 288.4L214.2 286.4M159.6 287.6L177.8 287.8L196.0 288.9L214.2 287.6M159.6 286.2L177.8 287.0L196.0 287.8L214.2 286.2M159.6 285.5L177.8 285.6L196.0 288.8L214.2 286.2M159.6 285.5L177.8 286.0L196.0 287.5L214.2 285.2M159.6 286.4L177.8 285.5L196.0 287.5L214.2 285.0" fill="none" stroke="#b00a36" stroke-width="1.15" stroke-linejoin="round"/>
<path d="M159.6 289.7l1.8 1.8l-1.8 1.8l-1.8 -1.8zM177.8 289.6l1.8 1.8l-1.8 1.8l-1.8 -1.8zM196.0 289.1l1.8 1.8l-1.8 1.8l-1.8 -1.8zM214.2 289.7l1.8 1.8l-1.8 1.8l-1.8 -1.8zM159.6 289.3l1.8 1.8l-1.8 1.8l-1.8 -1.8zM177.8 289.1l1.8 1.8l-1.8 1.8l-1.8 -1.8zM196.0 289.7l1.8 1.8l-1.8 1.8l-1.8 -1.8zM214.2 289.2l1.8 1.8l-1.8 1.8l-1.8 -1.8zM159.6 288.6l1.8 1.8l-1.8 1.8l-1.8 -1.8zM177.8 288.2l1.8 1.8l-1.8 1.8l-1.8 -1.8zM196.0 289.7l1.8 1.8l-1.8 1.8l-1.8 -1.8zM214.2 289.2l1.8 1.8l-1.8 1.8l-1.8 -1.8zM159.6 289.3l1.8 1.8l-1.8 1.8l-1.8 -1.8zM177.8 287.7l1.8 1.8l-1.8 1.8l-1.8 -1.8zM196.0 288.6l1.8 1.8l-1.8 1.8l-1.8 -1.8zM214.2 289.4l1.8 1.8l-1.8 1.8l-1.8 -1.8zM159.6 286.9l1.8 1.8l-1.8 1.8l-1.8 -1.8zM177.8 287.0l1.8 1.8l-1.8 1.8l-1.8 -1.8zM196.0 288.3l1.8 1.8l-1.8 1.8l-1.8 -1.8zM214.2 287.4l1.8 1.8l-1.8 1.8l-1.8 -1.8zM159.6 288.3l1.8 1.8l-1.8 1.8l-1.8 -1.8zM177.8 288.6l1.8 1.8l-1.8 1.8l-1.8 -1.8zM196.0 288.2l1.8 1.8l-1.8 1.8l-1.8 -1.8zM214.2 288.3l1.8 1.8l-1.8 1.8l-1.8 -1.8zM159.6 287.8l1.8 1.8l-1.8 1.8l-1.8 -1.8zM177.8 287.7l1.8 1.8l-1.8 1.8l-1.8 -1.8zM196.0 288.7l1.8 1.8l-1.8 1.8l-1.8 -1.8zM214.2 286.8l1.8 1.8l-1.8 1.8l-1.8 -1.8zM159.6 286.8l1.8 1.8l-1.8 1.8l-1.8 -1.8zM177.8 285.9l1.8 1.8l-1.8 1.8l-1.8 -1.8zM196.0 287.7l1.8 1.8l-1.8 1.8l-1.8 -1.8zM214.2 285.8l1.8 1.8l-1.8 1.8l-1.8 -1.8zM159.6 286.2l1.8 1.8l-1.8 1.8l-1.8 -1.8zM177.8 285.9l1.8 1.8l-1.8 1.8l-1.8 -1.8zM196.0 287.5l1.8 1.8l-1.8 1.8l-1.8 -1.8zM214.2 286.2l1.8 1.8l-1.8 1.8l-1.8 -1.8zM159.6 284.7l1.8 1.8l-1.8 1.8l-1.8 -1.8zM177.8 284.7l1.8 1.8l-1.8 1.8l-1.8 -1.8zM196.0 286.6l1.8 1.8l-1.8 1.8l-1.8 -1.8zM214.2 284.6l1.8 1.8l-1.8 1.8l-1.8 -1.8zM159.6 285.8l1.8 1.8l-1.8 1.8l-1.8 -1.8zM177.8 286.0l1.8 1.8l-1.8 1.8l-1.8 -1.8zM196.0 287.1l1.8 1.8l-1.8 1.8l-1.8 -1.8zM214.2 285.8l1.8 1.8l-1.8 1.8l-1.8 -1.8zM159.6 284.4l1.8 1.8l-1.8 1.8l-1.8 -1.8zM177.8 285.2l1.8 1.8l-1.8 1.8l-1.8 -1.8zM196.0 286.0l1.8 1.8l-1.8 1.8l-1.8 -1.8zM214.2 284.4l1.8 1.8l-1.8 1.8l-1.8 -1.8zM159.6 283.7l1.8 1.8l-1.8 1.8l-1.8 -1.8zM177.8 283.8l1.8 1.8l-1.8 1.8l-1.8 -1.8zM196.0 287.0l1.8 1.8l-1.8 1.8l-1.8 -1.8zM214.2 284.4l1.8 1.8l-1.8 1.8l-1.8 -1.8zM159.6 283.7l1.8 1.8l-1.8 1.8l-1.8 -1.8zM177.8 284.2l1.8 1.8l-1.8 1.8l-1.8 -1.8zM196.0 285.7l1.8 1.8l-1.8 1.8l-1.8 -1.8zM214.2 283.4l1.8 1.8l-1.8 1.8l-1.8 -1.8zM159.6 284.6l1.8 1.8l-1.8 1.8l-1.8 -1.8zM177.8 283.7l1.8 1.8l-1.8 1.8l-1.8 -1.8zM196.0 285.7l1.8 1.8l-1.8 1.8l-1.8 -1.8zM214.2 283.2l1.8 1.8l-1.8 1.8l-1.8 -1.8z" fill="#900a30"/>
<path d="M159.6 279.0L177.8 254.2L196.0 218.4L214.2 210.9" fill="none" stroke="#9a2c4c" stroke-width="0.8"/>
<path d="M159.6 284.4L177.8 270.1L196.0 239.5L214.2 238.1" fill="none" stroke="#a5143c" stroke-width="1.3"/>
<path d="M159.6 288.5L177.8 285.9L196.0 278.6L214.2 259.1" fill="none" stroke="#a5143c" stroke-width="1.3"/>
<path d="M159.6 287.5L177.8 284.9L196.0 273.4L214.2 268.5" fill="none" stroke="#a5143c" stroke-width="1.3"/>
<path d="M159.6 289.5L177.8 287.5L196.0 280.4L214.2 272.6" fill="none" stroke="#a5143c" stroke-width="1.3"/>
<path d="M159.6 289.5L177.8 287.9L196.0 281.4L214.2 277.2" fill="none" stroke="#a5143c" stroke-width="1.3"/>
<path d="M159.6 277.0l2.0 2.0l-2.0 2.0l-2.0 -2.0zM177.8 252.2l2.0 2.0l-2.0 2.0l-2.0 -2.0zM196.0 216.4l2.0 2.0l-2.0 2.0l-2.0 -2.0zM214.2 208.9l2.0 2.0l-2.0 2.0l-2.0 -2.0zM159.6 282.4l2.0 2.0l-2.0 2.0l-2.0 -2.0zM177.8 268.1l2.0 2.0l-2.0 2.0l-2.0 -2.0zM196.0 237.5l2.0 2.0l-2.0 2.0l-2.0 -2.0zM214.2 236.1l2.0 2.0l-2.0 2.0l-2.0 -2.0zM159.6 286.5l2.0 2.0l-2.0 2.0l-2.0 -2.0zM177.8 283.9l2.0 2.0l-2.0 2.0l-2.0 -2.0zM196.0 276.6l2.0 2.0l-2.0 2.0l-2.0 -2.0zM214.2 257.1l2.0 2.0l-2.0 2.0l-2.0 -2.0zM159.6 285.5l2.0 2.0l-2.0 2.0l-2.0 -2.0zM177.8 282.9l2.0 2.0l-2.0 2.0l-2.0 -2.0zM196.0 271.4l2.0 2.0l-2.0 2.0l-2.0 -2.0zM214.2 266.5l2.0 2.0l-2.0 2.0l-2.0 -2.0zM159.6 287.5l2.0 2.0l-2.0 2.0l-2.0 -2.0zM177.8 285.5l2.0 2.0l-2.0 2.0l-2.0 -2.0zM196.0 278.4l2.0 2.0l-2.0 2.0l-2.0 -2.0zM214.2 270.6l2.0 2.0l-2.0 2.0l-2.0 -2.0zM159.6 287.5l2.0 2.0l-2.0 2.0l-2.0 -2.0zM177.8 285.9l2.0 2.0l-2.0 2.0l-2.0 -2.0zM196.0 279.4l2.0 2.0l-2.0 2.0l-2.0 -2.0zM214.2 275.2l2.0 2.0l-2.0 2.0l-2.0 -2.0z" fill="#760c2c"/>
<path d="M153.7 207.2V294.7M150.5 291.5H217.7M150.5 271.4H153.7M150.5 251.2H153.7M150.5 231.1H153.7M150.5 210.9H153.7M183.9 291.5V294.7M214.2 291.5V294.7" stroke="#000" stroke-width="1.45" fill="none"/>
<text x="143.9" y="294.1" font-size="7.2" text-anchor="middle" fill="#222">0</text>
<text x="143.9" y="274.0" font-size="7.2" text-anchor="middle" fill="#222">1</text>
<text x="143.9" y="253.8" font-size="7.2" text-anchor="middle" fill="#222">2</text>
<text x="143.9" y="233.7" font-size="7.2" text-anchor="middle" fill="#222">3</text>
<text x="143.9" y="213.5" font-size="7.2" text-anchor="middle" fill="#222">4</text>
<text x="153.7" y="305.6" font-size="7.2" text-anchor="middle" fill="#222">0.01</text>
<text x="183.9" y="305.6" font-size="7.2" text-anchor="middle" fill="#222">0.1</text>
<text x="214.2" y="305.6" font-size="7.2" text-anchor="middle" fill="#222">1</text>
<text x="149.9" y="203.6" font-size="8" fill="#222">OD<tspan font-size="4.4" dy="2.8" fill="#444">405</tspan></text>
<line x1="249.2" y1="281.4" x2="313.1" y2="281.4" stroke="#3a4541" stroke-width="0.95" stroke-dasharray="2 0.6"/>
<path d="M255.1 291.5L273.5 291.3L291.8 291.2L310.2 291.5M255.1 291.4L273.5 290.9L291.8 290.7L310.2 288.7M255.1 290.9L273.5 289.9L291.8 288.9L310.2 287.2M255.1 290.9L273.5 289.3L291.8 288.3L310.2 284.6M255.1 290.7L273.5 288.5L291.8 287.2L310.2 283.8" fill="none" stroke="#b00a36" stroke-width="1.15" stroke-linejoin="round"/>
<path d="M255.1 289.7l1.8 1.8l-1.8 1.8l-1.8 -1.8zM273.5 289.5l1.8 1.8l-1.8 1.8l-1.8 -1.8zM291.8 289.4l1.8 1.8l-1.8 1.8l-1.8 -1.8zM310.2 289.7l1.8 1.8l-1.8 1.8l-1.8 -1.8zM255.1 289.6l1.8 1.8l-1.8 1.8l-1.8 -1.8zM273.5 289.1l1.8 1.8l-1.8 1.8l-1.8 -1.8zM291.8 288.9l1.8 1.8l-1.8 1.8l-1.8 -1.8zM310.2 286.9l1.8 1.8l-1.8 1.8l-1.8 -1.8zM255.1 289.1l1.8 1.8l-1.8 1.8l-1.8 -1.8zM273.5 288.1l1.8 1.8l-1.8 1.8l-1.8 -1.8zM291.8 287.1l1.8 1.8l-1.8 1.8l-1.8 -1.8zM310.2 285.4l1.8 1.8l-1.8 1.8l-1.8 -1.8zM255.1 289.1l1.8 1.8l-1.8 1.8l-1.8 -1.8zM273.5 287.5l1.8 1.8l-1.8 1.8l-1.8 -1.8zM291.8 286.5l1.8 1.8l-1.8 1.8l-1.8 -1.8zM310.2 282.8l1.8 1.8l-1.8 1.8l-1.8 -1.8zM255.1 288.9l1.8 1.8l-1.8 1.8l-1.8 -1.8zM273.5 286.7l1.8 1.8l-1.8 1.8l-1.8 -1.8zM291.8 285.4l1.8 1.8l-1.8 1.8l-1.8 -1.8zM310.2 282.0l1.8 1.8l-1.8 1.8l-1.8 -1.8z" fill="#900a30"/>
<path d="M255.1 278.6L273.5 258.1L291.8 217.5L310.2 210.9" fill="none" stroke="#9a2c4c" stroke-width="0.8"/>
<path d="M255.1 290.5L273.5 288.5L291.8 280.6L310.2 283.0" fill="none" stroke="#a5143c" stroke-width="1.3"/>
<path d="M255.1 276.6l2.0 2.0l-2.0 2.0l-2.0 -2.0zM273.5 256.1l2.0 2.0l-2.0 2.0l-2.0 -2.0zM291.8 215.5l2.0 2.0l-2.0 2.0l-2.0 -2.0zM310.2 208.9l2.0 2.0l-2.0 2.0l-2.0 -2.0zM255.1 288.5l2.0 2.0l-2.0 2.0l-2.0 -2.0zM273.5 286.5l2.0 2.0l-2.0 2.0l-2.0 -2.0zM291.8 278.6l2.0 2.0l-2.0 2.0l-2.0 -2.0zM310.2 281.0l2.0 2.0l-2.0 2.0l-2.0 -2.0z" fill="#760c2c"/>
<path d="M249.2 207.2V294.7M246.0 291.5H313.1M246.0 271.4H249.2M246.0 251.2H249.2M246.0 231.1H249.2M246.0 210.9H249.2M279.7 291.5V294.7M310.2 291.5V294.7" stroke="#000" stroke-width="1.45" fill="none"/>
<text x="239.4" y="294.1" font-size="7.2" text-anchor="middle" fill="#222">0</text>
<text x="239.4" y="274.0" font-size="7.2" text-anchor="middle" fill="#222">1</text>
<text x="239.4" y="253.8" font-size="7.2" text-anchor="middle" fill="#222">2</text>
<text x="239.4" y="233.7" font-size="7.2" text-anchor="middle" fill="#222">3</text>
<text x="239.4" y="213.5" font-size="7.2" text-anchor="middle" fill="#222">4</text>
<text x="249.2" y="305.6" font-size="7.2" text-anchor="middle" fill="#222">0.01</text>
<text x="279.7" y="305.6" font-size="7.2" text-anchor="middle" fill="#222">0.1</text>
<text x="310.2" y="305.6" font-size="7.2" text-anchor="middle" fill="#222">1</text>
<text x="245.4" y="203.6" font-size="8" fill="#222">OD<tspan font-size="4.4" dy="2.8" fill="#444">405</tspan></text>
<line x1="337.3" y1="281.4" x2="400.2" y2="281.4" stroke="#3a4541" stroke-width="0.95" stroke-dasharray="2 0.6"/>
<path d="M343.1 291.5L361.2 291.2L379.2 291.2L397.3 290.7M343.1 291.5L361.2 291.5L379.2 291.5L397.3 291.5M343.1 291.0L361.2 291.4L379.2 290.7L397.3 291.2M343.1 291.2L361.2 290.5L379.2 289.7L397.3 289.8M343.1 291.2L361.2 290.4L379.2 290.6L397.3 288.7M343.1 290.5L361.2 289.0L379.2 289.0L397.3 288.5M343.1 290.2L361.2 288.6L379.2 289.6L397.3 287.7M343.1 290.4L361.2 288.3L379.2 288.7L397.3 288.2M343.1 290.4L361.2 288.5L379.2 288.7L397.3 288.4M343.1 289.9L361.2 287.5L379.2 287.1L397.3 286.6M343.1 289.9L361.2 287.2L379.2 288.3L397.3 286.1M343.1 289.8L361.2 287.8L379.2 287.8L397.3 286.0M343.1 289.8L361.2 286.9L379.2 286.7L397.3 285.8M343.1 289.8L361.2 286.5L379.2 286.9L397.3 285.7" fill="none" stroke="#b00a36" stroke-width="1.15" stroke-linejoin="round"/>
<path d="M343.1 289.7l1.8 1.8l-1.8 1.8l-1.8 -1.8zM361.2 289.4l1.8 1.8l-1.8 1.8l-1.8 -1.8zM379.2 289.4l1.8 1.8l-1.8 1.8l-1.8 -1.8zM397.3 288.9l1.8 1.8l-1.8 1.8l-1.8 -1.8zM343.1 289.7l1.8 1.8l-1.8 1.8l-1.8 -1.8zM361.2 289.7l1.8 1.8l-1.8 1.8l-1.8 -1.8zM379.2 289.7l1.8 1.8l-1.8 1.8l-1.8 -1.8zM397.3 289.7l1.8 1.8l-1.8 1.8l-1.8 -1.8zM343.1 289.2l1.8 1.8l-1.8 1.8l-1.8 -1.8zM361.2 289.6l1.8 1.8l-1.8 1.8l-1.8 -1.8zM379.2 288.9l1.8 1.8l-1.8 1.8l-1.8 -1.8zM397.3 289.4l1.8 1.8l-1.8 1.8l-1.8 -1.8zM343.1 289.4l1.8 1.8l-1.8 1.8l-1.8 -1.8zM361.2 288.7l1.8 1.8l-1.8 1.8l-1.8 -1.8zM379.2 287.9l1.8 1.8l-1.8 1.8l-1.8 -1.8zM397.3 288.0l1.8 1.8l-1.8 1.8l-1.8 -1.8zM343.1 289.4l1.8 1.8l-1.8 1.8l-1.8 -1.8zM361.2 288.6l1.8 1.8l-1.8 1.8l-1.8 -1.8zM379.2 288.8l1.8 1.8l-1.8 1.8l-1.8 -1.8zM397.3 286.9l1.8 1.8l-1.8 1.8l-1.8 -1.8zM343.1 288.7l1.8 1.8l-1.8 1.8l-1.8 -1.8zM361.2 287.2l1.8 1.8l-1.8 1.8l-1.8 -1.8zM379.2 287.2l1.8 1.8l-1.8 1.8l-1.8 -1.8zM397.3 286.7l1.8 1.8l-1.8 1.8l-1.8 -1.8zM343.1 288.4l1.8 1.8l-1.8 1.8l-1.8 -1.8zM361.2 286.8l1.8 1.8l-1.8 1.8l-1.8 -1.8zM379.2 287.8l1.8 1.8l-1.8 1.8l-1.8 -1.8zM397.3 285.9l1.8 1.8l-1.8 1.8l-1.8 -1.8zM343.1 288.6l1.8 1.8l-1.8 1.8l-1.8 -1.8zM361.2 286.5l1.8 1.8l-1.8 1.8l-1.8 -1.8zM379.2 286.9l1.8 1.8l-1.8 1.8l-1.8 -1.8zM397.3 286.4l1.8 1.8l-1.8 1.8l-1.8 -1.8zM343.1 288.6l1.8 1.8l-1.8 1.8l-1.8 -1.8zM361.2 286.7l1.8 1.8l-1.8 1.8l-1.8 -1.8zM379.2 286.9l1.8 1.8l-1.8 1.8l-1.8 -1.8zM397.3 286.6l1.8 1.8l-1.8 1.8l-1.8 -1.8zM343.1 288.1l1.8 1.8l-1.8 1.8l-1.8 -1.8zM361.2 285.7l1.8 1.8l-1.8 1.8l-1.8 -1.8zM379.2 285.3l1.8 1.8l-1.8 1.8l-1.8 -1.8zM397.3 284.8l1.8 1.8l-1.8 1.8l-1.8 -1.8zM343.1 288.1l1.8 1.8l-1.8 1.8l-1.8 -1.8zM361.2 285.4l1.8 1.8l-1.8 1.8l-1.8 -1.8zM379.2 286.5l1.8 1.8l-1.8 1.8l-1.8 -1.8zM397.3 284.3l1.8 1.8l-1.8 1.8l-1.8 -1.8zM343.1 288.0l1.8 1.8l-1.8 1.8l-1.8 -1.8zM361.2 286.0l1.8 1.8l-1.8 1.8l-1.8 -1.8zM379.2 286.0l1.8 1.8l-1.8 1.8l-1.8 -1.8zM397.3 284.2l1.8 1.8l-1.8 1.8l-1.8 -1.8zM343.1 288.0l1.8 1.8l-1.8 1.8l-1.8 -1.8zM361.2 285.1l1.8 1.8l-1.8 1.8l-1.8 -1.8zM379.2 284.9l1.8 1.8l-1.8 1.8l-1.8 -1.8zM397.3 284.0l1.8 1.8l-1.8 1.8l-1.8 -1.8zM343.1 288.0l1.8 1.8l-1.8 1.8l-1.8 -1.8zM361.2 284.7l1.8 1.8l-1.8 1.8l-1.8 -1.8zM379.2 285.1l1.8 1.8l-1.8 1.8l-1.8 -1.8zM397.3 283.9l1.8 1.8l-1.8 1.8l-1.8 -1.8z" fill="#900a30"/>
<path d="M343.1 279.2L361.2 257.0L379.2 212.9L397.3 210.9" fill="none" stroke="#a5143c" stroke-width="1.3"/>
<path d="M343.1 286.1L361.2 268.5L379.2 220.2L397.3 210.9" fill="none" stroke="#9a2c4c" stroke-width="0.8"/>
<path d="M343.1 289.5L361.2 284.9L379.2 267.9L397.3 250.0" fill="none" stroke="#a5143c" stroke-width="1.3"/>
<path d="M343.1 290.5L361.2 285.5L379.2 278.0L397.3 274.2" fill="none" stroke="#a5143c" stroke-width="1.3"/>
<path d="M343.1 290.5L361.2 287.5L379.2 283.0L397.3 278.0" fill="none" stroke="#a5143c" stroke-width="1.3"/>
<path d="M343.1 277.2l2.0 2.0l-2.0 2.0l-2.0 -2.0zM361.2 255.0l2.0 2.0l-2.0 2.0l-2.0 -2.0zM379.2 210.9l2.0 2.0l-2.0 2.0l-2.0 -2.0zM397.3 208.9l2.0 2.0l-2.0 2.0l-2.0 -2.0zM343.1 284.1l2.0 2.0l-2.0 2.0l-2.0 -2.0zM361.2 266.5l2.0 2.0l-2.0 2.0l-2.0 -2.0zM379.2 218.2l2.0 2.0l-2.0 2.0l-2.0 -2.0zM397.3 208.9l2.0 2.0l-2.0 2.0l-2.0 -2.0zM343.1 287.5l2.0 2.0l-2.0 2.0l-2.0 -2.0zM361.2 282.9l2.0 2.0l-2.0 2.0l-2.0 -2.0zM379.2 265.9l2.0 2.0l-2.0 2.0l-2.0 -2.0zM397.3 248.0l2.0 2.0l-2.0 2.0l-2.0 -2.0zM343.1 288.5l2.0 2.0l-2.0 2.0l-2.0 -2.0zM361.2 283.5l2.0 2.0l-2.0 2.0l-2.0 -2.0zM379.2 276.0l2.0 2.0l-2.0 2.0l-2.0 -2.0zM397.3 272.2l2.0 2.0l-2.0 2.0l-2.0 -2.0zM343.1 288.5l2.0 2.0l-2.0 2.0l-2.0 -2.0zM361.2 285.5l2.0 2.0l-2.0 2.0l-2.0 -2.0zM379.2 281.0l2.0 2.0l-2.0 2.0l-2.0 -2.0zM397.3 276.0l2.0 2.0l-2.0 2.0l-2.0 -2.0z" fill="#760c2c"/>
<path d="M337.3 207.2V294.7M334.1 291.5H400.2M334.1 271.4H337.3M334.1 251.2H337.3M334.1 231.1H337.3M334.1 210.9H337.3M367.3 291.5V294.7M397.3 291.5V294.7" stroke="#000" stroke-width="1.45" fill="none"/>
<text x="327.5" y="294.1" font-size="7.2" text-anchor="middle" fill="#222">0</text>
<text x="327.5" y="274.0" font-size="7.2" text-anchor="middle" fill="#222">1</text>
<text x="327.5" y="253.8" font-size="7.2" text-anchor="middle" fill="#222">2</text>
<text x="327.5" y="233.7" font-size="7.2" text-anchor="middle" fill="#222">3</text>
<text x="327.5" y="213.5" font-size="7.2" text-anchor="middle" fill="#222">4</text>
<text x="337.3" y="305.6" font-size="7.2" text-anchor="middle" fill="#222">0.01</text>
<text x="367.3" y="305.6" font-size="7.2" text-anchor="middle" fill="#222">0.1</text>
<text x="397.3" y="305.6" font-size="7.2" text-anchor="middle" fill="#222">1</text>
<text x="333.5" y="203.6" font-size="8" fill="#222">OD<tspan font-size="4.4" dy="2.8" fill="#444">405</tspan></text>
<line x1="424.3" y1="281.4" x2="489.0" y2="281.4" stroke="#3a4541" stroke-width="0.95" stroke-dasharray="2 0.6"/>
<path d="M430.2 291.5L448.5 291.1L466.9 291.2L485.2 290.2M430.2 291.5L448.5 291.5L466.9 290.6L485.2 290.4M430.2 291.2L448.5 290.2L466.9 290.8L485.2 289.4M430.2 291.1L448.5 290.7L466.9 289.4L485.2 290.0M430.2 290.6L448.5 289.0L466.9 289.5L485.2 290.0M430.2 289.9L448.5 288.8L466.9 290.0L485.2 287.8M430.2 290.2L448.5 289.1L466.9 289.7L485.2 288.5M430.2 288.6L448.5 288.5L466.9 287.5L485.2 287.1M430.2 288.9L448.5 287.0L466.9 287.6L485.2 287.5M430.2 288.6L448.5 287.0L466.9 288.2L485.2 286.9M430.2 287.9L448.5 286.8L466.9 287.8L485.2 285.1M430.2 288.5L448.5 285.7L466.9 286.7L485.2 285.6M430.2 287.5L448.5 286.8L466.9 286.7L485.2 285.1M430.2 287.5L448.5 286.3L466.9 285.9L485.2 284.3" fill="none" stroke="#b00a36" stroke-width="1.15" stroke-linejoin="round"/>
<path d="M430.2 289.7l1.8 1.8l-1.8 1.8l-1.8 -1.8zM448.5 289.3l1.8 1.8l-1.8 1.8l-1.8 -1.8zM466.9 289.4l1.8 1.8l-1.8 1.8l-1.8 -1.8zM485.2 288.4l1.8 1.8l-1.8 1.8l-1.8 -1.8zM430.2 289.7l1.8 1.8l-1.8 1.8l-1.8 -1.8zM448.5 289.7l1.8 1.8l-1.8 1.8l-1.8 -1.8zM466.9 288.8l1.8 1.8l-1.8 1.8l-1.8 -1.8zM485.2 288.6l1.8 1.8l-1.8 1.8l-1.8 -1.8zM430.2 289.4l1.8 1.8l-1.8 1.8l-1.8 -1.8zM448.5 288.4l1.8 1.8l-1.8 1.8l-1.8 -1.8zM466.9 289.0l1.8 1.8l-1.8 1.8l-1.8 -1.8zM485.2 287.6l1.8 1.8l-1.8 1.8l-1.8 -1.8zM430.2 289.3l1.8 1.8l-1.8 1.8l-1.8 -1.8zM448.5 288.9l1.8 1.8l-1.8 1.8l-1.8 -1.8zM466.9 287.6l1.8 1.8l-1.8 1.8l-1.8 -1.8zM485.2 288.2l1.8 1.8l-1.8 1.8l-1.8 -1.8zM430.2 288.8l1.8 1.8l-1.8 1.8l-1.8 -1.8zM448.5 287.2l1.8 1.8l-1.8 1.8l-1.8 -1.8zM466.9 287.7l1.8 1.8l-1.8 1.8l-1.8 -1.8zM485.2 288.2l1.8 1.8l-1.8 1.8l-1.8 -1.8zM430.2 288.1l1.8 1.8l-1.8 1.8l-1.8 -1.8zM448.5 287.0l1.8 1.8l-1.8 1.8l-1.8 -1.8zM466.9 288.2l1.8 1.8l-1.8 1.8l-1.8 -1.8zM485.2 286.0l1.8 1.8l-1.8 1.8l-1.8 -1.8zM430.2 288.4l1.8 1.8l-1.8 1.8l-1.8 -1.8zM448.5 287.3l1.8 1.8l-1.8 1.8l-1.8 -1.8zM466.9 287.9l1.8 1.8l-1.8 1.8l-1.8 -1.8zM485.2 286.7l1.8 1.8l-1.8 1.8l-1.8 -1.8zM430.2 286.8l1.8 1.8l-1.8 1.8l-1.8 -1.8zM448.5 286.7l1.8 1.8l-1.8 1.8l-1.8 -1.8zM466.9 285.7l1.8 1.8l-1.8 1.8l-1.8 -1.8zM485.2 285.3l1.8 1.8l-1.8 1.8l-1.8 -1.8zM430.2 287.1l1.8 1.8l-1.8 1.8l-1.8 -1.8zM448.5 285.2l1.8 1.8l-1.8 1.8l-1.8 -1.8zM466.9 285.8l1.8 1.8l-1.8 1.8l-1.8 -1.8zM485.2 285.7l1.8 1.8l-1.8 1.8l-1.8 -1.8zM430.2 286.8l1.8 1.8l-1.8 1.8l-1.8 -1.8zM448.5 285.2l1.8 1.8l-1.8 1.8l-1.8 -1.8zM466.9 286.4l1.8 1.8l-1.8 1.8l-1.8 -1.8zM485.2 285.1l1.8 1.8l-1.8 1.8l-1.8 -1.8zM430.2 286.1l1.8 1.8l-1.8 1.8l-1.8 -1.8zM448.5 285.0l1.8 1.8l-1.8 1.8l-1.8 -1.8zM466.9 286.0l1.8 1.8l-1.8 1.8l-1.8 -1.8zM485.2 283.3l1.8 1.8l-1.8 1.8l-1.8 -1.8zM430.2 286.7l1.8 1.8l-1.8 1.8l-1.8 -1.8zM448.5 283.9l1.8 1.8l-1.8 1.8l-1.8 -1.8zM466.9 284.9l1.8 1.8l-1.8 1.8l-1.8 -1.8zM485.2 283.8l1.8 1.8l-1.8 1.8l-1.8 -1.8zM430.2 285.7l1.8 1.8l-1.8 1.8l-1.8 -1.8zM448.5 285.0l1.8 1.8l-1.8 1.8l-1.8 -1.8zM466.9 284.9l1.8 1.8l-1.8 1.8l-1.8 -1.8zM485.2 283.3l1.8 1.8l-1.8 1.8l-1.8 -1.8zM430.2 285.7l1.8 1.8l-1.8 1.8l-1.8 -1.8zM448.5 284.5l1.8 1.8l-1.8 1.8l-1.8 -1.8zM466.9 284.1l1.8 1.8l-1.8 1.8l-1.8 -1.8zM485.2 282.5l1.8 1.8l-1.8 1.8l-1.8 -1.8z" fill="#900a30"/>
<path d="M430.2 287.5L448.5 273.4L466.9 229.0L485.2 210.9" fill="none" stroke="#9a2c4c" stroke-width="0.8"/>
<path d="M430.2 288.5L448.5 280.4L466.9 269.9L485.2 264.9" fill="none" stroke="#a5143c" stroke-width="1.3"/>
<path d="M430.2 289.5L448.5 281.4L466.9 271.4L485.2 265.7" fill="none" stroke="#a5143c" stroke-width="1.3"/>
<path d="M430.2 289.5L448.5 285.5L466.9 279.4L485.2 273.4" fill="none" stroke="#a5143c" stroke-width="1.3"/>
<path d="M430.2 290.5L448.5 285.5L466.9 280.4L485.2 276.6" fill="none" stroke="#a5143c" stroke-width="1.3"/>
<path d="M430.2 285.5l2.0 2.0l-2.0 2.0l-2.0 -2.0zM448.5 271.4l2.0 2.0l-2.0 2.0l-2.0 -2.0zM466.9 227.0l2.0 2.0l-2.0 2.0l-2.0 -2.0zM485.2 208.9l2.0 2.0l-2.0 2.0l-2.0 -2.0zM430.2 286.5l2.0 2.0l-2.0 2.0l-2.0 -2.0zM448.5 278.4l2.0 2.0l-2.0 2.0l-2.0 -2.0zM466.9 267.9l2.0 2.0l-2.0 2.0l-2.0 -2.0zM485.2 262.9l2.0 2.0l-2.0 2.0l-2.0 -2.0zM430.2 287.5l2.0 2.0l-2.0 2.0l-2.0 -2.0zM448.5 279.4l2.0 2.0l-2.0 2.0l-2.0 -2.0zM466.9 269.4l2.0 2.0l-2.0 2.0l-2.0 -2.0zM485.2 263.7l2.0 2.0l-2.0 2.0l-2.0 -2.0zM430.2 287.5l2.0 2.0l-2.0 2.0l-2.0 -2.0zM448.5 283.5l2.0 2.0l-2.0 2.0l-2.0 -2.0zM466.9 277.4l2.0 2.0l-2.0 2.0l-2.0 -2.0zM485.2 271.4l2.0 2.0l-2.0 2.0l-2.0 -2.0zM430.2 288.5l2.0 2.0l-2.0 2.0l-2.0 -2.0zM448.5 283.5l2.0 2.0l-2.0 2.0l-2.0 -2.0zM466.9 278.4l2.0 2.0l-2.0 2.0l-2.0 -2.0zM485.2 274.6l2.0 2.0l-2.0 2.0l-2.0 -2.0z" fill="#760c2c"/>
<path d="M424.3 207.2V294.7M421.1 291.5H489.0M421.1 271.4H424.3M421.1 251.2H424.3M421.1 231.1H424.3M421.1 210.9H424.3M454.8 291.5V294.7M485.2 291.5V294.7" stroke="#000" stroke-width="1.45" fill="none"/>
<text x="414.5" y="294.1" font-size="7.2" text-anchor="middle" fill="#222">0</text>
<text x="414.5" y="274.0" font-size="7.2" text-anchor="middle" fill="#222">1</text>
<text x="414.5" y="253.8" font-size="7.2" text-anchor="middle" fill="#222">2</text>
<text x="414.5" y="233.7" font-size="7.2" text-anchor="middle" fill="#222">3</text>
<text x="414.5" y="213.5" font-size="7.2" text-anchor="middle" fill="#222">4</text>
<text x="424.3" y="305.6" font-size="7.2" text-anchor="middle" fill="#222">0.01</text>
<text x="454.8" y="305.6" font-size="7.2" text-anchor="middle" fill="#222">0.1</text>
<text x="485.2" y="305.6" font-size="7.2" text-anchor="middle" fill="#222">1</text>
<text x="490.2" y="307.4" font-size="7.6" fill="#222">µg/mL</text>
<text x="420.5" y="203.6" font-size="8" fill="#222">OD<tspan font-size="4.4" dy="2.8" fill="#444">405</tspan></text>
<line x1="66.0" y1="409.2" x2="130.4" y2="409.2" stroke="#3a4541" stroke-width="0.95" stroke-dasharray="2 0.6"/>
<path d="M71.9 418.4L90.0 419.0L108.2 418.7L126.4 417.8M71.9 419.3L90.0 418.7L108.2 417.8L126.4 417.0M71.9 418.0L90.0 419.0L108.2 418.3L126.4 415.7M71.9 418.5L90.0 418.5L108.2 416.5L126.4 416.7M71.9 417.7L90.0 418.1L108.2 416.0L126.4 416.2M71.9 416.7L90.0 417.3L108.2 415.7L126.4 414.7M71.9 416.9L90.0 417.0L108.2 416.9L126.4 415.3M71.9 416.1L90.0 416.5L108.2 415.7L126.4 412.2M71.9 415.6L90.0 416.9L108.2 415.7L126.4 411.2M71.9 413.6L90.0 416.4L108.2 414.6L126.4 412.8M71.9 413.5L90.0 415.9L108.2 414.3L126.4 409.6M71.9 413.3L90.0 415.3L108.2 413.7L126.4 409.2" fill="none" stroke="#b00a36" stroke-width="1.15" stroke-linejoin="round"/>
<path d="M71.9 416.6l1.8 1.8l-1.8 1.8l-1.8 -1.8zM90.0 417.2l1.8 1.8l-1.8 1.8l-1.8 -1.8zM108.2 416.9l1.8 1.8l-1.8 1.8l-1.8 -1.8zM126.4 416.0l1.8 1.8l-1.8 1.8l-1.8 -1.8zM71.9 417.5l1.8 1.8l-1.8 1.8l-1.8 -1.8zM90.0 416.9l1.8 1.8l-1.8 1.8l-1.8 -1.8zM108.2 416.0l1.8 1.8l-1.8 1.8l-1.8 -1.8zM126.4 415.2l1.8 1.8l-1.8 1.8l-1.8 -1.8zM71.9 416.2l1.8 1.8l-1.8 1.8l-1.8 -1.8zM90.0 417.2l1.8 1.8l-1.8 1.8l-1.8 -1.8zM108.2 416.5l1.8 1.8l-1.8 1.8l-1.8 -1.8zM126.4 413.9l1.8 1.8l-1.8 1.8l-1.8 -1.8zM71.9 416.7l1.8 1.8l-1.8 1.8l-1.8 -1.8zM90.0 416.7l1.8 1.8l-1.8 1.8l-1.8 -1.8zM108.2 414.7l1.8 1.8l-1.8 1.8l-1.8 -1.8zM126.4 414.9l1.8 1.8l-1.8 1.8l-1.8 -1.8zM71.9 415.9l1.8 1.8l-1.8 1.8l-1.8 -1.8zM90.0 416.3l1.8 1.8l-1.8 1.8l-1.8 -1.8zM108.2 414.2l1.8 1.8l-1.8 1.8l-1.8 -1.8zM126.4 414.4l1.8 1.8l-1.8 1.8l-1.8 -1.8zM71.9 414.9l1.8 1.8l-1.8 1.8l-1.8 -1.8zM90.0 415.5l1.8 1.8l-1.8 1.8l-1.8 -1.8zM108.2 413.9l1.8 1.8l-1.8 1.8l-1.8 -1.8zM126.4 412.9l1.8 1.8l-1.8 1.8l-1.8 -1.8zM71.9 415.1l1.8 1.8l-1.8 1.8l-1.8 -1.8zM90.0 415.2l1.8 1.8l-1.8 1.8l-1.8 -1.8zM108.2 415.1l1.8 1.8l-1.8 1.8l-1.8 -1.8zM126.4 413.5l1.8 1.8l-1.8 1.8l-1.8 -1.8zM71.9 414.3l1.8 1.8l-1.8 1.8l-1.8 -1.8zM90.0 414.7l1.8 1.8l-1.8 1.8l-1.8 -1.8zM108.2 413.9l1.8 1.8l-1.8 1.8l-1.8 -1.8zM126.4 410.4l1.8 1.8l-1.8 1.8l-1.8 -1.8zM71.9 413.8l1.8 1.8l-1.8 1.8l-1.8 -1.8zM90.0 415.1l1.8 1.8l-1.8 1.8l-1.8 -1.8zM108.2 413.9l1.8 1.8l-1.8 1.8l-1.8 -1.8zM126.4 409.4l1.8 1.8l-1.8 1.8l-1.8 -1.8zM71.9 411.8l1.8 1.8l-1.8 1.8l-1.8 -1.8zM90.0 414.6l1.8 1.8l-1.8 1.8l-1.8 -1.8zM108.2 412.8l1.8 1.8l-1.8 1.8l-1.8 -1.8zM126.4 411.0l1.8 1.8l-1.8 1.8l-1.8 -1.8zM71.9 411.7l1.8 1.8l-1.8 1.8l-1.8 -1.8zM90.0 414.1l1.8 1.8l-1.8 1.8l-1.8 -1.8zM108.2 412.5l1.8 1.8l-1.8 1.8l-1.8 -1.8zM126.4 407.8l1.8 1.8l-1.8 1.8l-1.8 -1.8zM71.9 411.5l1.8 1.8l-1.8 1.8l-1.8 -1.8zM90.0 413.5l1.8 1.8l-1.8 1.8l-1.8 -1.8zM108.2 411.9l1.8 1.8l-1.8 1.8l-1.8 -1.8zM126.4 407.4l1.8 1.8l-1.8 1.8l-1.8 -1.8z" fill="#900a30"/>
<path d="M71.9 413.3L90.0 392.9L108.2 350.4L126.4 338.7" fill="none" stroke="#9a2c4c" stroke-width="0.8"/>
<path d="M71.9 415.3L90.0 400.4L108.2 382.8L126.4 379.2" fill="none" stroke="#a5143c" stroke-width="1.3"/>
<path d="M71.9 415.3L90.0 402.2L108.2 391.1L126.4 362.1" fill="none" stroke="#a5143c" stroke-width="1.3"/>
<path d="M71.9 416.3L90.0 403.2L108.2 398.3L126.4 373.6" fill="none" stroke="#a5143c" stroke-width="1.3"/>
<path d="M71.9 417.3L90.0 414.7L108.2 410.8L126.4 406.0" fill="none" stroke="#a5143c" stroke-width="1.3"/>
<path d="M71.9 411.3l2.0 2.0l-2.0 2.0l-2.0 -2.0zM90.0 390.9l2.0 2.0l-2.0 2.0l-2.0 -2.0zM108.2 348.4l2.0 2.0l-2.0 2.0l-2.0 -2.0zM126.4 336.7l2.0 2.0l-2.0 2.0l-2.0 -2.0zM71.9 413.3l2.0 2.0l-2.0 2.0l-2.0 -2.0zM90.0 398.4l2.0 2.0l-2.0 2.0l-2.0 -2.0zM108.2 380.8l2.0 2.0l-2.0 2.0l-2.0 -2.0zM126.4 377.2l2.0 2.0l-2.0 2.0l-2.0 -2.0zM71.9 413.3l2.0 2.0l-2.0 2.0l-2.0 -2.0zM90.0 400.2l2.0 2.0l-2.0 2.0l-2.0 -2.0zM108.2 389.1l2.0 2.0l-2.0 2.0l-2.0 -2.0zM126.4 360.1l2.0 2.0l-2.0 2.0l-2.0 -2.0zM71.9 414.3l2.0 2.0l-2.0 2.0l-2.0 -2.0zM90.0 401.2l2.0 2.0l-2.0 2.0l-2.0 -2.0zM108.2 396.3l2.0 2.0l-2.0 2.0l-2.0 -2.0zM126.4 371.6l2.0 2.0l-2.0 2.0l-2.0 -2.0zM71.9 415.3l2.0 2.0l-2.0 2.0l-2.0 -2.0zM90.0 412.7l2.0 2.0l-2.0 2.0l-2.0 -2.0zM108.2 408.8l2.0 2.0l-2.0 2.0l-2.0 -2.0zM126.4 404.0l2.0 2.0l-2.0 2.0l-2.0 -2.0z" fill="#760c2c"/>
<path d="M66.0 335.1V422.5M62.8 419.3H130.4M62.8 399.2H66.0M62.8 379.0H66.0M62.8 358.9H66.0M62.8 338.7H66.0M96.2 419.3V422.5M126.4 419.3V422.5" stroke="#000" stroke-width="1.45" fill="none"/>
<text x="56.2" y="421.9" font-size="7.2" text-anchor="middle" fill="#222">0</text>
<text x="56.2" y="401.8" font-size="7.2" text-anchor="middle" fill="#222">1</text>
<text x="56.2" y="381.6" font-size="7.2" text-anchor="middle" fill="#222">2</text>
<text x="56.2" y="361.5" font-size="7.2" text-anchor="middle" fill="#222">3</text>
<text x="56.2" y="341.3" font-size="7.2" text-anchor="middle" fill="#222">4</text>
<text x="66.0" y="434.2" font-size="7.2" text-anchor="middle" fill="#222">0.01</text>
<text x="96.2" y="434.2" font-size="7.2" text-anchor="middle" fill="#222">0.1</text>
<text x="126.4" y="434.2" font-size="7.2" text-anchor="middle" fill="#222">1</text>
<text x="62.2" y="332.2" font-size="8" fill="#222">OD<tspan font-size="4.4" dy="2.8" fill="#444">405</tspan></text>
<line x1="154.1" y1="409.2" x2="218.5" y2="409.2" stroke="#3a4541" stroke-width="0.95" stroke-dasharray="2 0.6"/>
<path d="M160.0 419.3L178.3 418.9L196.6 419.0L214.9 419.3M160.0 419.3L178.3 418.2L196.6 418.3L214.9 418.8M160.0 418.1L178.3 419.0L196.6 419.3L214.9 418.7M160.0 417.2L178.3 418.9L196.6 417.5L214.9 418.6M160.0 417.7L178.3 418.6L196.6 416.7L214.9 417.1M160.0 415.1L178.3 416.9L196.6 418.2L214.9 417.5M160.0 415.7L178.3 417.5L196.6 416.0L214.9 417.0M160.0 416.1L178.3 415.6L196.6 417.2L214.9 415.3M160.0 414.6L178.3 415.7L196.6 416.4L214.9 415.9M160.0 414.8L178.3 416.4L196.6 414.9L214.9 416.0M160.0 412.4L178.3 415.6L196.6 414.3L214.9 414.1M160.0 411.9L178.3 414.0L196.6 414.7L214.9 414.1M160.0 413.2L178.3 414.2L196.6 413.8L214.9 414.8M160.0 410.8L178.3 413.3L196.6 414.2L214.9 414.0M160.0 411.0L178.3 413.5L196.6 413.7L214.9 413.5" fill="none" stroke="#b00a36" stroke-width="1.15" stroke-linejoin="round"/>
<path d="M160.0 417.5l1.8 1.8l-1.8 1.8l-1.8 -1.8zM178.3 417.1l1.8 1.8l-1.8 1.8l-1.8 -1.8zM196.6 417.2l1.8 1.8l-1.8 1.8l-1.8 -1.8zM214.9 417.5l1.8 1.8l-1.8 1.8l-1.8 -1.8zM160.0 417.5l1.8 1.8l-1.8 1.8l-1.8 -1.8zM178.3 416.4l1.8 1.8l-1.8 1.8l-1.8 -1.8zM196.6 416.5l1.8 1.8l-1.8 1.8l-1.8 -1.8zM214.9 417.0l1.8 1.8l-1.8 1.8l-1.8 -1.8zM160.0 416.3l1.8 1.8l-1.8 1.8l-1.8 -1.8zM178.3 417.2l1.8 1.8l-1.8 1.8l-1.8 -1.8zM196.6 417.5l1.8 1.8l-1.8 1.8l-1.8 -1.8zM214.9 416.9l1.8 1.8l-1.8 1.8l-1.8 -1.8zM160.0 415.4l1.8 1.8l-1.8 1.8l-1.8 -1.8zM178.3 417.1l1.8 1.8l-1.8 1.8l-1.8 -1.8zM196.6 415.7l1.8 1.8l-1.8 1.8l-1.8 -1.8zM214.9 416.8l1.8 1.8l-1.8 1.8l-1.8 -1.8zM160.0 415.9l1.8 1.8l-1.8 1.8l-1.8 -1.8zM178.3 416.8l1.8 1.8l-1.8 1.8l-1.8 -1.8zM196.6 414.9l1.8 1.8l-1.8 1.8l-1.8 -1.8zM214.9 415.3l1.8 1.8l-1.8 1.8l-1.8 -1.8zM160.0 413.3l1.8 1.8l-1.8 1.8l-1.8 -1.8zM178.3 415.1l1.8 1.8l-1.8 1.8l-1.8 -1.8zM196.6 416.4l1.8 1.8l-1.8 1.8l-1.8 -1.8zM214.9 415.7l1.8 1.8l-1.8 1.8l-1.8 -1.8zM160.0 413.9l1.8 1.8l-1.8 1.8l-1.8 -1.8zM178.3 415.7l1.8 1.8l-1.8 1.8l-1.8 -1.8zM196.6 414.2l1.8 1.8l-1.8 1.8l-1.8 -1.8zM214.9 415.2l1.8 1.8l-1.8 1.8l-1.8 -1.8zM160.0 414.3l1.8 1.8l-1.8 1.8l-1.8 -1.8zM178.3 413.8l1.8 1.8l-1.8 1.8l-1.8 -1.8zM196.6 415.4l1.8 1.8l-1.8 1.8l-1.8 -1.8zM214.9 413.5l1.8 1.8l-1.8 1.8l-1.8 -1.8zM160.0 412.8l1.8 1.8l-1.8 1.8l-1.8 -1.8zM178.3 413.9l1.8 1.8l-1.8 1.8l-1.8 -1.8zM196.6 414.6l1.8 1.8l-1.8 1.8l-1.8 -1.8zM214.9 414.1l1.8 1.8l-1.8 1.8l-1.8 -1.8zM160.0 413.0l1.8 1.8l-1.8 1.8l-1.8 -1.8zM178.3 414.6l1.8 1.8l-1.8 1.8l-1.8 -1.8zM196.6 413.1l1.8 1.8l-1.8 1.8l-1.8 -1.8zM214.9 414.2l1.8 1.8l-1.8 1.8l-1.8 -1.8zM160.0 410.6l1.8 1.8l-1.8 1.8l-1.8 -1.8zM178.3 413.8l1.8 1.8l-1.8 1.8l-1.8 -1.8zM196.6 412.5l1.8 1.8l-1.8 1.8l-1.8 -1.8zM214.9 412.3l1.8 1.8l-1.8 1.8l-1.8 -1.8zM160.0 410.1l1.8 1.8l-1.8 1.8l-1.8 -1.8zM178.3 412.2l1.8 1.8l-1.8 1.8l-1.8 -1.8zM196.6 412.9l1.8 1.8l-1.8 1.8l-1.8 -1.8zM214.9 412.3l1.8 1.8l-1.8 1.8l-1.8 -1.8zM160.0 411.4l1.8 1.8l-1.8 1.8l-1.8 -1.8zM178.3 412.4l1.8 1.8l-1.8 1.8l-1.8 -1.8zM196.6 412.0l1.8 1.8l-1.8 1.8l-1.8 -1.8zM214.9 413.0l1.8 1.8l-1.8 1.8l-1.8 -1.8zM160.0 409.0l1.8 1.8l-1.8 1.8l-1.8 -1.8zM178.3 411.5l1.8 1.8l-1.8 1.8l-1.8 -1.8zM196.6 412.4l1.8 1.8l-1.8 1.8l-1.8 -1.8zM214.9 412.2l1.8 1.8l-1.8 1.8l-1.8 -1.8zM160.0 409.2l1.8 1.8l-1.8 1.8l-1.8 -1.8zM178.3 411.7l1.8 1.8l-1.8 1.8l-1.8 -1.8zM196.6 411.9l1.8 1.8l-1.8 1.8l-1.8 -1.8zM214.9 411.7l1.8 1.8l-1.8 1.8l-1.8 -1.8z" fill="#900a30"/>
<path d="M160.0 410.8L178.3 391.1L196.6 344.7L214.9 338.7" fill="none" stroke="#9a2c4c" stroke-width="0.8"/>
<path d="M160.0 413.3L178.3 403.8L196.6 384.4L214.9 365.3" fill="none" stroke="#a5143c" stroke-width="1.3"/>
<path d="M160.0 414.3L178.3 410.2L196.6 400.2L214.9 389.3" fill="none" stroke="#a5143c" stroke-width="1.3"/>
<path d="M160.0 415.3L178.3 409.2L196.6 400.2L214.9 393.9" fill="none" stroke="#a5143c" stroke-width="1.3"/>
<path d="M160.0 417.3L178.3 412.7L196.6 409.6L214.9 397.3" fill="none" stroke="#a5143c" stroke-width="1.3"/>
<path d="M160.0 417.3L178.3 415.3L196.6 413.7L214.9 407.4" fill="none" stroke="#a5143c" stroke-width="1.3"/>
<path d="M160.0 408.8l2.0 2.0l-2.0 2.0l-2.0 -2.0zM178.3 389.1l2.0 2.0l-2.0 2.0l-2.0 -2.0zM196.6 342.7l2.0 2.0l-2.0 2.0l-2.0 -2.0zM214.9 336.7l2.0 2.0l-2.0 2.0l-2.0 -2.0zM160.0 411.3l2.0 2.0l-2.0 2.0l-2.0 -2.0zM178.3 401.8l2.0 2.0l-2.0 2.0l-2.0 -2.0zM196.6 382.4l2.0 2.0l-2.0 2.0l-2.0 -2.0zM214.9 363.3l2.0 2.0l-2.0 2.0l-2.0 -2.0zM160.0 412.3l2.0 2.0l-2.0 2.0l-2.0 -2.0zM178.3 408.2l2.0 2.0l-2.0 2.0l-2.0 -2.0zM196.6 398.2l2.0 2.0l-2.0 2.0l-2.0 -2.0zM214.9 387.3l2.0 2.0l-2.0 2.0l-2.0 -2.0zM160.0 413.3l2.0 2.0l-2.0 2.0l-2.0 -2.0zM178.3 407.2l2.0 2.0l-2.0 2.0l-2.0 -2.0zM196.6 398.2l2.0 2.0l-2.0 2.0l-2.0 -2.0zM214.9 391.9l2.0 2.0l-2.0 2.0l-2.0 -2.0zM160.0 415.3l2.0 2.0l-2.0 2.0l-2.0 -2.0zM178.3 410.7l2.0 2.0l-2.0 2.0l-2.0 -2.0zM196.6 407.6l2.0 2.0l-2.0 2.0l-2.0 -2.0zM214.9 395.3l2.0 2.0l-2.0 2.0l-2.0 -2.0zM160.0 415.3l2.0 2.0l-2.0 2.0l-2.0 -2.0zM178.3 413.3l2.0 2.0l-2.0 2.0l-2.0 -2.0zM196.6 411.7l2.0 2.0l-2.0 2.0l-2.0 -2.0zM214.9 405.4l2.0 2.0l-2.0 2.0l-2.0 -2.0z" fill="#760c2c"/>
<path d="M154.1 335.1V422.5M150.9 419.3H218.5M150.9 399.2H154.1M150.9 379.0H154.1M150.9 358.9H154.1M150.9 338.7H154.1M184.5 419.3V422.5M214.9 419.3V422.5" stroke="#000" stroke-width="1.45" fill="none"/>
<text x="144.3" y="421.9" font-size="7.2" text-anchor="middle" fill="#222">0</text>
<text x="144.3" y="401.8" font-size="7.2" text-anchor="middle" fill="#222">1</text>
<text x="144.3" y="381.6" font-size="7.2" text-anchor="middle" fill="#222">2</text>
<text x="144.3" y="361.5" font-size="7.2" text-anchor="middle" fill="#222">3</text>
<text x="144.3" y="341.3" font-size="7.2" text-anchor="middle" fill="#222">4</text>
<text x="154.1" y="434.2" font-size="7.2" text-anchor="middle" fill="#222">0.01</text>
<text x="184.5" y="434.2" font-size="7.2" text-anchor="middle" fill="#222">0.1</text>
<text x="214.9" y="434.2" font-size="7.2" text-anchor="middle" fill="#222">1</text>
<text x="150.3" y="332.2" font-size="8" fill="#222">OD<tspan font-size="4.4" dy="2.8" fill="#444">405</tspan></text>
<line x1="249.2" y1="409.2" x2="313.7" y2="409.2" stroke="#3a4541" stroke-width="0.95" stroke-dasharray="2 0.6"/>
<path d="M255.1 419.1L273.6 419.3L292.0 419.3L310.4 418.2M255.1 419.2L273.6 419.2L292.0 418.1L310.4 418.1M255.1 418.7L273.6 418.9L292.0 416.6L310.4 416.7M255.1 418.5L273.6 418.4L292.0 416.0L310.4 413.8M255.1 418.3L273.6 418.5L292.0 415.3L310.4 413.3" fill="none" stroke="#b00a36" stroke-width="1.15" stroke-linejoin="round"/>
<path d="M255.1 417.3l1.8 1.8l-1.8 1.8l-1.8 -1.8zM273.6 417.5l1.8 1.8l-1.8 1.8l-1.8 -1.8zM292.0 417.5l1.8 1.8l-1.8 1.8l-1.8 -1.8zM310.4 416.4l1.8 1.8l-1.8 1.8l-1.8 -1.8zM255.1 417.4l1.8 1.8l-1.8 1.8l-1.8 -1.8zM273.6 417.4l1.8 1.8l-1.8 1.8l-1.8 -1.8zM292.0 416.3l1.8 1.8l-1.8 1.8l-1.8 -1.8zM310.4 416.3l1.8 1.8l-1.8 1.8l-1.8 -1.8zM255.1 416.9l1.8 1.8l-1.8 1.8l-1.8 -1.8zM273.6 417.1l1.8 1.8l-1.8 1.8l-1.8 -1.8zM292.0 414.8l1.8 1.8l-1.8 1.8l-1.8 -1.8zM310.4 414.9l1.8 1.8l-1.8 1.8l-1.8 -1.8zM255.1 416.7l1.8 1.8l-1.8 1.8l-1.8 -1.8zM273.6 416.6l1.8 1.8l-1.8 1.8l-1.8 -1.8zM292.0 414.2l1.8 1.8l-1.8 1.8l-1.8 -1.8zM310.4 412.0l1.8 1.8l-1.8 1.8l-1.8 -1.8zM255.1 416.5l1.8 1.8l-1.8 1.8l-1.8 -1.8zM273.6 416.7l1.8 1.8l-1.8 1.8l-1.8 -1.8zM292.0 413.5l1.8 1.8l-1.8 1.8l-1.8 -1.8zM310.4 411.5l1.8 1.8l-1.8 1.8l-1.8 -1.8z" fill="#900a30"/>
<path d="M255.1 411.8L273.6 398.3L292.0 345.8L310.4 338.7" fill="none" stroke="#9a2c4c" stroke-width="0.8"/>
<path d="M255.1 414.7L273.6 408.2L292.0 400.4L310.4 411.0" fill="none" stroke="#a5143c" stroke-width="1.3"/>
<path d="M255.1 418.3L273.6 418.3L292.0 413.3L310.4 413.7" fill="none" stroke="#a5143c" stroke-width="1.3"/>
<path d="M255.1 409.8l2.0 2.0l-2.0 2.0l-2.0 -2.0zM273.6 396.3l2.0 2.0l-2.0 2.0l-2.0 -2.0zM292.0 343.8l2.0 2.0l-2.0 2.0l-2.0 -2.0zM310.4 336.7l2.0 2.0l-2.0 2.0l-2.0 -2.0zM255.1 412.7l2.0 2.0l-2.0 2.0l-2.0 -2.0zM273.6 406.2l2.0 2.0l-2.0 2.0l-2.0 -2.0zM292.0 398.4l2.0 2.0l-2.0 2.0l-2.0 -2.0zM310.4 409.0l2.0 2.0l-2.0 2.0l-2.0 -2.0zM255.1 416.3l2.0 2.0l-2.0 2.0l-2.0 -2.0zM273.6 416.3l2.0 2.0l-2.0 2.0l-2.0 -2.0zM292.0 411.3l2.0 2.0l-2.0 2.0l-2.0 -2.0zM310.4 411.7l2.0 2.0l-2.0 2.0l-2.0 -2.0z" fill="#760c2c"/>
<path d="M249.2 335.1V422.5M246.0 419.3H313.7M246.0 399.2H249.2M246.0 379.0H249.2M246.0 358.9H249.2M246.0 338.7H249.2M279.8 419.3V422.5M310.4 419.3V422.5" stroke="#000" stroke-width="1.45" fill="none"/>
<text x="239.4" y="421.9" font-size="7.2" text-anchor="middle" fill="#222">0</text>
<text x="239.4" y="401.8" font-size="7.2" text-anchor="middle" fill="#222">1</text>
<text x="239.4" y="381.6" font-size="7.2" text-anchor="middle" fill="#222">2</text>
<text x="239.4" y="361.5" font-size="7.2" text-anchor="middle" fill="#222">3</text>
<text x="239.4" y="341.3" font-size="7.2" text-anchor="middle" fill="#222">4</text>
<text x="249.2" y="434.2" font-size="7.2" text-anchor="middle" fill="#222">0.01</text>
<text x="279.8" y="434.2" font-size="7.2" text-anchor="middle" fill="#222">0.1</text>
<text x="310.4" y="434.2" font-size="7.2" text-anchor="middle" fill="#222">1</text>
<text x="245.4" y="332.2" font-size="8" fill="#222">OD<tspan font-size="4.4" dy="2.8" fill="#444">405</tspan></text>
<line x1="337.3" y1="409.2" x2="401.2" y2="409.2" stroke="#3a4541" stroke-width="0.95" stroke-dasharray="2 0.6"/>
<path d="M343.2 418.7L361.3 418.7L379.5 418.6L397.7 419.3M343.2 418.9L361.3 419.1L379.5 418.9L397.7 419.3M343.2 419.1L361.3 418.8L379.5 419.0L397.7 418.3M343.2 419.1L361.3 419.0L379.5 417.8L397.7 417.9M343.2 418.0L361.3 417.9L379.5 418.0L397.7 418.3M343.2 417.3L361.3 417.8L379.5 417.1L397.7 416.3M343.2 416.8L361.3 417.8L379.5 416.5L397.7 416.4M343.2 417.0L361.3 417.1L379.5 416.9L397.7 416.6M343.2 416.9L361.3 416.8L379.5 416.0L397.7 415.1M343.2 416.3L361.3 417.2L379.5 416.4L397.7 414.9M343.2 415.7L361.3 416.9L379.5 416.1L397.7 414.9M343.2 416.6L361.3 416.5L379.5 414.9L397.7 412.5M343.2 415.8L361.3 416.1L379.5 415.0L397.7 413.3M343.2 415.3L361.3 415.7L379.5 414.7L397.7 413.2" fill="none" stroke="#b00a36" stroke-width="1.15" stroke-linejoin="round"/>
<path d="M343.2 416.9l1.8 1.8l-1.8 1.8l-1.8 -1.8zM361.3 416.9l1.8 1.8l-1.8 1.8l-1.8 -1.8zM379.5 416.8l1.8 1.8l-1.8 1.8l-1.8 -1.8zM397.7 417.5l1.8 1.8l-1.8 1.8l-1.8 -1.8zM343.2 417.1l1.8 1.8l-1.8 1.8l-1.8 -1.8zM361.3 417.3l1.8 1.8l-1.8 1.8l-1.8 -1.8zM379.5 417.1l1.8 1.8l-1.8 1.8l-1.8 -1.8zM397.7 417.5l1.8 1.8l-1.8 1.8l-1.8 -1.8zM343.2 417.3l1.8 1.8l-1.8 1.8l-1.8 -1.8zM361.3 417.0l1.8 1.8l-1.8 1.8l-1.8 -1.8zM379.5 417.2l1.8 1.8l-1.8 1.8l-1.8 -1.8zM397.7 416.5l1.8 1.8l-1.8 1.8l-1.8 -1.8zM343.2 417.3l1.8 1.8l-1.8 1.8l-1.8 -1.8zM361.3 417.2l1.8 1.8l-1.8 1.8l-1.8 -1.8zM379.5 416.0l1.8 1.8l-1.8 1.8l-1.8 -1.8zM397.7 416.1l1.8 1.8l-1.8 1.8l-1.8 -1.8zM343.2 416.2l1.8 1.8l-1.8 1.8l-1.8 -1.8zM361.3 416.1l1.8 1.8l-1.8 1.8l-1.8 -1.8zM379.5 416.2l1.8 1.8l-1.8 1.8l-1.8 -1.8zM397.7 416.5l1.8 1.8l-1.8 1.8l-1.8 -1.8zM343.2 415.5l1.8 1.8l-1.8 1.8l-1.8 -1.8zM361.3 416.0l1.8 1.8l-1.8 1.8l-1.8 -1.8zM379.5 415.3l1.8 1.8l-1.8 1.8l-1.8 -1.8zM397.7 414.5l1.8 1.8l-1.8 1.8l-1.8 -1.8zM343.2 415.0l1.8 1.8l-1.8 1.8l-1.8 -1.8zM361.3 416.0l1.8 1.8l-1.8 1.8l-1.8 -1.8zM379.5 414.7l1.8 1.8l-1.8 1.8l-1.8 -1.8zM397.7 414.6l1.8 1.8l-1.8 1.8l-1.8 -1.8zM343.2 415.2l1.8 1.8l-1.8 1.8l-1.8 -1.8zM361.3 415.3l1.8 1.8l-1.8 1.8l-1.8 -1.8zM379.5 415.1l1.8 1.8l-1.8 1.8l-1.8 -1.8zM397.7 414.8l1.8 1.8l-1.8 1.8l-1.8 -1.8zM343.2 415.1l1.8 1.8l-1.8 1.8l-1.8 -1.8zM361.3 415.0l1.8 1.8l-1.8 1.8l-1.8 -1.8zM379.5 414.2l1.8 1.8l-1.8 1.8l-1.8 -1.8zM397.7 413.3l1.8 1.8l-1.8 1.8l-1.8 -1.8zM343.2 414.5l1.8 1.8l-1.8 1.8l-1.8 -1.8zM361.3 415.4l1.8 1.8l-1.8 1.8l-1.8 -1.8zM379.5 414.6l1.8 1.8l-1.8 1.8l-1.8 -1.8zM397.7 413.1l1.8 1.8l-1.8 1.8l-1.8 -1.8zM343.2 413.9l1.8 1.8l-1.8 1.8l-1.8 -1.8zM361.3 415.1l1.8 1.8l-1.8 1.8l-1.8 -1.8zM379.5 414.3l1.8 1.8l-1.8 1.8l-1.8 -1.8zM397.7 413.1l1.8 1.8l-1.8 1.8l-1.8 -1.8zM343.2 414.8l1.8 1.8l-1.8 1.8l-1.8 -1.8zM361.3 414.7l1.8 1.8l-1.8 1.8l-1.8 -1.8zM379.5 413.1l1.8 1.8l-1.8 1.8l-1.8 -1.8zM397.7 410.7l1.8 1.8l-1.8 1.8l-1.8 -1.8zM343.2 414.0l1.8 1.8l-1.8 1.8l-1.8 -1.8zM361.3 414.3l1.8 1.8l-1.8 1.8l-1.8 -1.8zM379.5 413.2l1.8 1.8l-1.8 1.8l-1.8 -1.8zM397.7 411.5l1.8 1.8l-1.8 1.8l-1.8 -1.8zM343.2 413.5l1.8 1.8l-1.8 1.8l-1.8 -1.8zM361.3 413.9l1.8 1.8l-1.8 1.8l-1.8 -1.8zM379.5 412.9l1.8 1.8l-1.8 1.8l-1.8 -1.8zM397.7 411.4l1.8 1.8l-1.8 1.8l-1.8 -1.8z" fill="#900a30"/>
<path d="M343.2 413.3L361.3 393.3L379.5 340.3L397.7 338.7" fill="none" stroke="#a5143c" stroke-width="1.3"/>
<path d="M343.2 416.3L361.3 404.4L379.5 367.7L397.7 338.7" fill="none" stroke="#9a2c4c" stroke-width="0.8"/>
<path d="M343.2 417.3L361.3 412.2L379.5 392.9L397.7 369.3" fill="none" stroke="#a5143c" stroke-width="1.3"/>
<path d="M343.2 417.3L361.3 413.3L379.5 405.8L397.7 399.4" fill="none" stroke="#a5143c" stroke-width="1.3"/>
<path d="M343.2 418.3L361.3 414.9L379.5 407.6L397.7 403.0" fill="none" stroke="#a5143c" stroke-width="1.3"/>
<path d="M343.2 418.3L361.3 416.3L379.5 412.2L397.7 411.6" fill="none" stroke="#a5143c" stroke-width="1.3"/>
<path d="M343.2 411.3l2.0 2.0l-2.0 2.0l-2.0 -2.0zM361.3 391.3l2.0 2.0l-2.0 2.0l-2.0 -2.0zM379.5 338.3l2.0 2.0l-2.0 2.0l-2.0 -2.0zM397.7 336.7l2.0 2.0l-2.0 2.0l-2.0 -2.0zM343.2 414.3l2.0 2.0l-2.0 2.0l-2.0 -2.0zM361.3 402.4l2.0 2.0l-2.0 2.0l-2.0 -2.0zM379.5 365.7l2.0 2.0l-2.0 2.0l-2.0 -2.0zM397.7 336.7l2.0 2.0l-2.0 2.0l-2.0 -2.0zM343.2 415.3l2.0 2.0l-2.0 2.0l-2.0 -2.0zM361.3 410.2l2.0 2.0l-2.0 2.0l-2.0 -2.0zM379.5 390.9l2.0 2.0l-2.0 2.0l-2.0 -2.0zM397.7 367.3l2.0 2.0l-2.0 2.0l-2.0 -2.0zM343.2 415.3l2.0 2.0l-2.0 2.0l-2.0 -2.0zM361.3 411.3l2.0 2.0l-2.0 2.0l-2.0 -2.0zM379.5 403.8l2.0 2.0l-2.0 2.0l-2.0 -2.0zM397.7 397.4l2.0 2.0l-2.0 2.0l-2.0 -2.0zM343.2 416.3l2.0 2.0l-2.0 2.0l-2.0 -2.0zM361.3 412.9l2.0 2.0l-2.0 2.0l-2.0 -2.0zM379.5 405.6l2.0 2.0l-2.0 2.0l-2.0 -2.0zM397.7 401.0l2.0 2.0l-2.0 2.0l-2.0 -2.0zM343.2 416.3l2.0 2.0l-2.0 2.0l-2.0 -2.0zM361.3 414.3l2.0 2.0l-2.0 2.0l-2.0 -2.0zM379.5 410.2l2.0 2.0l-2.0 2.0l-2.0 -2.0zM397.7 409.6l2.0 2.0l-2.0 2.0l-2.0 -2.0z" fill="#760c2c"/>
<path d="M337.3 335.1V422.5M334.1 419.3H401.2M334.1 399.2H337.3M334.1 379.0H337.3M334.1 358.9H337.3M334.1 338.7H337.3M367.5 419.3V422.5M397.7 419.3V422.5" stroke="#000" stroke-width="1.45" fill="none"/>
<text x="327.5" y="421.9" font-size="7.2" text-anchor="middle" fill="#222">0</text>
<text x="327.5" y="401.8" font-size="7.2" text-anchor="middle" fill="#222">1</text>
<text x="327.5" y="381.6" font-size="7.2" text-anchor="middle" fill="#222">2</text>
<text x="327.5" y="361.5" font-size="7.2" text-anchor="middle" fill="#222">3</text>
<text x="327.5" y="341.3" font-size="7.2" text-anchor="middle" fill="#222">4</text>
<text x="337.3" y="434.2" font-size="7.2" text-anchor="middle" fill="#222">0.01</text>
<text x="367.5" y="434.2" font-size="7.2" text-anchor="middle" fill="#222">0.1</text>
<text x="397.7" y="434.2" font-size="7.2" text-anchor="middle" fill="#222">1</text>
<text x="333.5" y="332.2" font-size="8" fill="#222">OD<tspan font-size="4.4" dy="2.8" fill="#444">405</tspan></text>
<line x1="424.4" y1="409.4" x2="486.5" y2="409.4" stroke="#3a4541" stroke-width="0.95" stroke-dasharray="2 0.6"/>
<path d="M430.1 418.8L448.0 418.4L465.8 419.2L483.6 418.1M430.1 419.2L448.0 418.3L465.8 419.2L483.6 418.1M430.1 419.0L448.0 417.6L465.8 417.8L483.6 417.6M430.1 418.0L448.0 416.7L465.8 416.8L483.6 418.6M430.1 417.4L448.0 416.0L465.8 416.9L483.6 417.4M430.1 417.4L448.0 415.5L465.8 417.8L483.6 416.2M430.1 415.8L448.0 416.9L465.8 416.9L483.6 416.8M430.1 416.0L448.0 415.8L465.8 415.2L483.6 414.9M430.1 416.0L448.0 414.0L465.8 416.5L483.6 416.3M430.1 414.8L448.0 413.7L465.8 414.5L483.6 413.8M430.1 413.9L448.0 414.5L465.8 414.2L483.6 413.4M430.1 415.1L448.0 413.4L465.8 415.0L483.6 414.7M430.1 413.8L448.0 412.5L465.8 413.3L483.6 414.3M430.1 413.3L448.0 412.4L465.8 413.3L483.6 412.9" fill="none" stroke="#b00a36" stroke-width="1.15" stroke-linejoin="round"/>
<path d="M430.1 417.0l1.8 1.8l-1.8 1.8l-1.8 -1.8zM448.0 416.6l1.8 1.8l-1.8 1.8l-1.8 -1.8zM465.8 417.4l1.8 1.8l-1.8 1.8l-1.8 -1.8zM483.6 416.3l1.8 1.8l-1.8 1.8l-1.8 -1.8zM430.1 417.4l1.8 1.8l-1.8 1.8l-1.8 -1.8zM448.0 416.5l1.8 1.8l-1.8 1.8l-1.8 -1.8zM465.8 417.4l1.8 1.8l-1.8 1.8l-1.8 -1.8zM483.6 416.3l1.8 1.8l-1.8 1.8l-1.8 -1.8zM430.1 417.2l1.8 1.8l-1.8 1.8l-1.8 -1.8zM448.0 415.8l1.8 1.8l-1.8 1.8l-1.8 -1.8zM465.8 416.0l1.8 1.8l-1.8 1.8l-1.8 -1.8zM483.6 415.8l1.8 1.8l-1.8 1.8l-1.8 -1.8zM430.1 416.2l1.8 1.8l-1.8 1.8l-1.8 -1.8zM448.0 414.9l1.8 1.8l-1.8 1.8l-1.8 -1.8zM465.8 415.0l1.8 1.8l-1.8 1.8l-1.8 -1.8zM483.6 416.8l1.8 1.8l-1.8 1.8l-1.8 -1.8zM430.1 415.6l1.8 1.8l-1.8 1.8l-1.8 -1.8zM448.0 414.2l1.8 1.8l-1.8 1.8l-1.8 -1.8zM465.8 415.1l1.8 1.8l-1.8 1.8l-1.8 -1.8zM483.6 415.6l1.8 1.8l-1.8 1.8l-1.8 -1.8zM430.1 415.6l1.8 1.8l-1.8 1.8l-1.8 -1.8zM448.0 413.7l1.8 1.8l-1.8 1.8l-1.8 -1.8zM465.8 416.0l1.8 1.8l-1.8 1.8l-1.8 -1.8zM483.6 414.4l1.8 1.8l-1.8 1.8l-1.8 -1.8zM430.1 414.0l1.8 1.8l-1.8 1.8l-1.8 -1.8zM448.0 415.1l1.8 1.8l-1.8 1.8l-1.8 -1.8zM465.8 415.1l1.8 1.8l-1.8 1.8l-1.8 -1.8zM483.6 415.0l1.8 1.8l-1.8 1.8l-1.8 -1.8zM430.1 414.2l1.8 1.8l-1.8 1.8l-1.8 -1.8zM448.0 414.0l1.8 1.8l-1.8 1.8l-1.8 -1.8zM465.8 413.4l1.8 1.8l-1.8 1.8l-1.8 -1.8zM483.6 413.1l1.8 1.8l-1.8 1.8l-1.8 -1.8zM430.1 414.2l1.8 1.8l-1.8 1.8l-1.8 -1.8zM448.0 412.2l1.8 1.8l-1.8 1.8l-1.8 -1.8zM465.8 414.7l1.8 1.8l-1.8 1.8l-1.8 -1.8zM483.6 414.5l1.8 1.8l-1.8 1.8l-1.8 -1.8zM430.1 413.0l1.8 1.8l-1.8 1.8l-1.8 -1.8zM448.0 411.9l1.8 1.8l-1.8 1.8l-1.8 -1.8zM465.8 412.7l1.8 1.8l-1.8 1.8l-1.8 -1.8zM483.6 412.0l1.8 1.8l-1.8 1.8l-1.8 -1.8zM430.1 412.1l1.8 1.8l-1.8 1.8l-1.8 -1.8zM448.0 412.7l1.8 1.8l-1.8 1.8l-1.8 -1.8zM465.8 412.4l1.8 1.8l-1.8 1.8l-1.8 -1.8zM483.6 411.6l1.8 1.8l-1.8 1.8l-1.8 -1.8zM430.1 413.3l1.8 1.8l-1.8 1.8l-1.8 -1.8zM448.0 411.6l1.8 1.8l-1.8 1.8l-1.8 -1.8zM465.8 413.2l1.8 1.8l-1.8 1.8l-1.8 -1.8zM483.6 412.9l1.8 1.8l-1.8 1.8l-1.8 -1.8zM430.1 412.0l1.8 1.8l-1.8 1.8l-1.8 -1.8zM448.0 410.7l1.8 1.8l-1.8 1.8l-1.8 -1.8zM465.8 411.5l1.8 1.8l-1.8 1.8l-1.8 -1.8zM483.6 412.5l1.8 1.8l-1.8 1.8l-1.8 -1.8zM430.1 411.5l1.8 1.8l-1.8 1.8l-1.8 -1.8zM448.0 410.6l1.8 1.8l-1.8 1.8l-1.8 -1.8zM465.8 411.5l1.8 1.8l-1.8 1.8l-1.8 -1.8zM483.6 411.1l1.8 1.8l-1.8 1.8l-1.8 -1.8z" fill="#900a30"/>
<path d="M430.1 413.3L448.0 394.2L465.8 352.7L483.6 341.0" fill="none" stroke="#9a2c4c" stroke-width="0.8"/>
<path d="M430.1 415.3L448.0 407.5L465.8 399.3L483.6 396.7" fill="none" stroke="#a5143c" stroke-width="1.3"/>
<path d="M430.1 416.3L448.0 409.4L465.8 404.9L483.6 401.0" fill="none" stroke="#a5143c" stroke-width="1.3"/>
<path d="M430.1 417.2L448.0 410.4L465.8 406.5L483.6 403.4" fill="none" stroke="#a5143c" stroke-width="1.3"/>
<path d="M430.1 411.3l2.0 2.0l-2.0 2.0l-2.0 -2.0zM448.0 392.2l2.0 2.0l-2.0 2.0l-2.0 -2.0zM465.8 350.7l2.0 2.0l-2.0 2.0l-2.0 -2.0zM483.6 339.0l2.0 2.0l-2.0 2.0l-2.0 -2.0zM430.1 413.3l2.0 2.0l-2.0 2.0l-2.0 -2.0zM448.0 405.5l2.0 2.0l-2.0 2.0l-2.0 -2.0zM465.8 397.3l2.0 2.0l-2.0 2.0l-2.0 -2.0zM483.6 394.7l2.0 2.0l-2.0 2.0l-2.0 -2.0zM430.1 414.3l2.0 2.0l-2.0 2.0l-2.0 -2.0zM448.0 407.4l2.0 2.0l-2.0 2.0l-2.0 -2.0zM465.8 402.9l2.0 2.0l-2.0 2.0l-2.0 -2.0zM483.6 399.0l2.0 2.0l-2.0 2.0l-2.0 -2.0zM430.1 415.2l2.0 2.0l-2.0 2.0l-2.0 -2.0zM448.0 408.4l2.0 2.0l-2.0 2.0l-2.0 -2.0zM465.8 404.5l2.0 2.0l-2.0 2.0l-2.0 -2.0zM483.6 401.4l2.0 2.0l-2.0 2.0l-2.0 -2.0z" fill="#760c2c"/>
<path d="M424.4 337.5V422.4M421.2 419.2H486.5M421.2 399.6H424.4M421.2 380.1H424.4M421.2 360.5H424.4M421.2 341.0H424.4M454.0 419.2V422.4M483.6 419.2V422.4" stroke="#000" stroke-width="1.45" fill="none"/>
<text x="414.6" y="421.8" font-size="7.2" text-anchor="middle" fill="#222">0</text>
<text x="414.6" y="402.2" font-size="7.2" text-anchor="middle" fill="#222">1</text>
<text x="414.6" y="382.7" font-size="7.2" text-anchor="middle" fill="#222">2</text>
<text x="414.6" y="363.1" font-size="7.2" text-anchor="middle" fill="#222">3</text>
<text x="414.6" y="343.6" font-size="7.2" text-anchor="middle" fill="#222">4</text>
<text x="424.4" y="434.2" font-size="7.2" text-anchor="middle" fill="#222">0.01</text>
<text x="454.0" y="434.2" font-size="7.2" text-anchor="middle" fill="#222">0.1</text>
<text x="483.6" y="434.2" font-size="7.2" text-anchor="middle" fill="#222">1</text>
<text x="487.7" y="436.0" font-size="7.6" fill="#222">µg/mL</text>
<text x="420.6" y="334.3" font-size="8" fill="#222">OD<tspan font-size="4.4" dy="2.8" fill="#444">405</tspan></text>
<path d="M98.3 476.8L98.3 444.4A32.4 32.4 0 0 0 76.87 452.50Z" fill="#a8052f"/>
<circle cx="98.3" cy="476.8" r="32.4" fill="none" stroke="#7a2342" stroke-width="1.3"/>
<circle cx="98.3" cy="476.8" r="10" fill="#fff" stroke="#7a2342" stroke-width="1.05"/>
<text x="90.0" y="457.4" font-size="8.2" font-weight="bold" text-anchor="middle" fill="#fff">11.5</text>
<text x="98.3" y="479.7" font-size="8.2" font-weight="bold" text-anchor="middle" fill="#111">26</text>
<text x="106.0" y="497.4" font-size="8.2" font-weight="bold" text-anchor="middle" fill="#111">88.5</text>
<path d="M186.2 476.8L186.2 444.4A32.4 32.4 0 0 0 153.80 476.80Z" fill="#a8052f"/>
<circle cx="186.2" cy="476.8" r="32.4" fill="none" stroke="#7a2342" stroke-width="1.3"/>
<circle cx="186.2" cy="476.8" r="10" fill="#fff" stroke="#7a2342" stroke-width="1.05"/>
<text x="177.0" y="457.0" font-size="8.2" font-weight="bold" text-anchor="middle" fill="#fff">25</text>
<text x="186.2" y="479.7" font-size="8.2" font-weight="bold" text-anchor="middle" fill="#111">20</text>
<text x="200.7" y="497.0" font-size="8.2" font-weight="bold" text-anchor="middle" fill="#111">75</text>
<path d="M281.7 476.8L281.7 444.4A32.4 32.4 0 0 0 262.66 450.59Z" fill="#a8052f"/>
<circle cx="281.7" cy="476.8" r="32.4" fill="none" stroke="#7a2342" stroke-width="1.3"/>
<circle cx="281.7" cy="476.8" r="10" fill="#fff" stroke="#7a2342" stroke-width="1.05"/>
<text x="274.2" y="454.8" font-size="8.2" font-weight="bold" text-anchor="middle" fill="#fff">10</text>
<text x="281.7" y="479.7" font-size="8.2" font-weight="bold" text-anchor="middle" fill="#111">10</text>
<text x="296.2" y="496.8" font-size="8.2" font-weight="bold" text-anchor="middle" fill="#111">90</text>
<path d="M369.2 476.8L369.2 444.4A32.4 32.4 0 0 0 337.92 468.35Z" fill="#a8052f"/>
<circle cx="369.2" cy="476.8" r="32.4" fill="none" stroke="#7a2342" stroke-width="1.3"/>
<circle cx="369.2" cy="476.8" r="10" fill="#fff" stroke="#7a2342" stroke-width="1.05"/>
<text x="357.7" y="460.0" font-size="8.2" font-weight="bold" text-anchor="middle" fill="#fff">20.8</text>
<text x="369.2" y="479.7" font-size="8.2" font-weight="bold" text-anchor="middle" fill="#111">24</text>
<text x="380.5" y="497.4" font-size="8.2" font-weight="bold" text-anchor="middle" fill="#111">79.2</text>
<path d="M455.8 476.8L455.8 444.4A32.4 32.4 0 0 0 423.54 473.75Z" fill="#a8052f"/>
<circle cx="455.8" cy="476.8" r="32.4" fill="none" stroke="#7a2342" stroke-width="1.3"/>
<circle cx="455.8" cy="476.8" r="10" fill="#fff" stroke="#7a2342" stroke-width="1.05"/>
<text x="443.2" y="460.0" font-size="8.2" font-weight="bold" text-anchor="middle" fill="#fff">23.5</text>
<text x="455.8" y="479.7" font-size="8.2" font-weight="bold" text-anchor="middle" fill="#111">17</text>
<text x="467.6" y="497.4" font-size="8.2" font-weight="bold" text-anchor="middle" fill="#111">76.5</text>
<rect x="192.8" y="523.0" width="8.6" height="8.6" fill="#fff" stroke="#7a2342" stroke-width="1.1"/>
<text x="205.0" y="530.3" font-size="7.4" fill="#222">Non Polyreactive (%)</text>
<rect x="292.2" y="522.6" width="9.2" height="9.4" fill="#a8052f"/>
<text x="305.2" y="530.3" font-size="7.4" fill="#222">Polyreactive (%)</text>
<text x="133.9" y="577.2" font-size="8.8" font-weight="bold" text-anchor="middle" fill="#000">Subjects</text>
<text x="315.4" y="577.2" font-size="8.8" font-weight="bold" text-anchor="middle" fill="#000">NSG mice</text>
<text x="33.2" y="595.2" font-size="7.4" font-weight="bold" fill="#000">Donor:</text>
<text x="98.4" y="595.2" font-size="7.4" font-weight="bold" text-anchor="middle" fill="#000">HC</text>
<text x="176.2" y="595.2" font-size="7.4" font-weight="bold" text-anchor="middle" fill="#000">RA</text>
<text x="279.2" y="595.2" font-size="7.4" font-weight="bold" text-anchor="middle" fill="#000">HC</text>
<text x="362.7" y="595.2" font-size="7.4" font-weight="bold" text-anchor="middle" fill="#000">RA</text>
<text transform="translate(48.4 653.8) rotate(-90) scale(0.6 1)" font-size="10.8" font-weight="bold" text-anchor="middle" fill="#111">HEp-2</text>
<text x="279.3" y="657.9" font-size="9.9" font-weight="bold" text-anchor="middle" fill="#000">NA</text>
<line x1="65.9" y1="684.6" x2="124.4" y2="684.6" stroke="#1a1a1a" stroke-width="0.95" stroke-dasharray="2.2 0.5"/>
<path d="M78.0 694.4L90.5 694.4L102.6 693.1L115.1 692.1M78.0 694.3L90.5 694.1L102.6 694.4L115.1 694.4M78.0 694.3L90.5 693.9L102.6 694.2L115.1 689.8M78.0 694.3L90.5 694.2L102.6 694.0L115.1 689.9M78.0 694.1L90.5 693.8L102.6 692.8L115.1 689.6M78.0 694.1L90.5 693.9L102.6 692.0L115.1 690.4M78.0 694.1L90.5 693.2L102.6 690.8L115.1 687.4M78.0 693.7L90.5 693.4L102.6 691.1L115.1 687.7M78.0 693.8L90.5 693.0L102.6 691.6L115.1 686.5M78.0 693.7L90.5 693.1L102.6 691.1L115.1 684.2M78.0 693.8L90.5 692.8L102.6 690.2L115.1 686.8M78.0 693.7L90.5 693.0L102.6 689.7L115.1 682.2M78.0 693.4L90.5 692.6L102.6 687.7L115.1 682.4M78.0 693.4L90.5 692.1L102.6 688.2L115.1 679.2M78.0 693.2L90.5 692.1L102.6 688.5L115.1 682.5M78.0 693.4L90.5 692.2L102.6 686.6L115.1 679.2" fill="none" stroke="#b00a36" stroke-width="1.15" stroke-linejoin="round"/>
<path d="M78.0 692.6l1.8 1.8l-1.8 1.8l-1.8 -1.8zM90.5 692.6l1.8 1.8l-1.8 1.8l-1.8 -1.8zM102.6 691.3l1.8 1.8l-1.8 1.8l-1.8 -1.8zM115.1 690.3l1.8 1.8l-1.8 1.8l-1.8 -1.8zM78.0 692.5l1.8 1.8l-1.8 1.8l-1.8 -1.8zM90.5 692.3l1.8 1.8l-1.8 1.8l-1.8 -1.8zM102.6 692.6l1.8 1.8l-1.8 1.8l-1.8 -1.8zM115.1 692.6l1.8 1.8l-1.8 1.8l-1.8 -1.8zM78.0 692.5l1.8 1.8l-1.8 1.8l-1.8 -1.8zM90.5 692.1l1.8 1.8l-1.8 1.8l-1.8 -1.8zM102.6 692.4l1.8 1.8l-1.8 1.8l-1.8 -1.8zM115.1 688.0l1.8 1.8l-1.8 1.8l-1.8 -1.8zM78.0 692.5l1.8 1.8l-1.8 1.8l-1.8 -1.8zM90.5 692.4l1.8 1.8l-1.8 1.8l-1.8 -1.8zM102.6 692.2l1.8 1.8l-1.8 1.8l-1.8 -1.8zM115.1 688.1l1.8 1.8l-1.8 1.8l-1.8 -1.8zM78.0 692.3l1.8 1.8l-1.8 1.8l-1.8 -1.8zM90.5 692.0l1.8 1.8l-1.8 1.8l-1.8 -1.8zM102.6 691.0l1.8 1.8l-1.8 1.8l-1.8 -1.8zM115.1 687.8l1.8 1.8l-1.8 1.8l-1.8 -1.8zM78.0 692.3l1.8 1.8l-1.8 1.8l-1.8 -1.8zM90.5 692.1l1.8 1.8l-1.8 1.8l-1.8 -1.8zM102.6 690.2l1.8 1.8l-1.8 1.8l-1.8 -1.8zM115.1 688.6l1.8 1.8l-1.8 1.8l-1.8 -1.8zM78.0 692.3l1.8 1.8l-1.8 1.8l-1.8 -1.8zM90.5 691.4l1.8 1.8l-1.8 1.8l-1.8 -1.8zM102.6 689.0l1.8 1.8l-1.8 1.8l-1.8 -1.8zM115.1 685.6l1.8 1.8l-1.8 1.8l-1.8 -1.8zM78.0 691.9l1.8 1.8l-1.8 1.8l-1.8 -1.8zM90.5 691.6l1.8 1.8l-1.8 1.8l-1.8 -1.8zM102.6 689.3l1.8 1.8l-1.8 1.8l-1.8 -1.8zM115.1 685.9l1.8 1.8l-1.8 1.8l-1.8 -1.8zM78.0 692.0l1.8 1.8l-1.8 1.8l-1.8 -1.8zM90.5 691.2l1.8 1.8l-1.8 1.8l-1.8 -1.8zM102.6 689.8l1.8 1.8l-1.8 1.8l-1.8 -1.8zM115.1 684.7l1.8 1.8l-1.8 1.8l-1.8 -1.8zM78.0 691.9l1.8 1.8l-1.8 1.8l-1.8 -1.8zM90.5 691.3l1.8 1.8l-1.8 1.8l-1.8 -1.8zM102.6 689.3l1.8 1.8l-1.8 1.8l-1.8 -1.8zM115.1 682.4l1.8 1.8l-1.8 1.8l-1.8 -1.8zM78.0 692.0l1.8 1.8l-1.8 1.8l-1.8 -1.8zM90.5 691.0l1.8 1.8l-1.8 1.8l-1.8 -1.8zM102.6 688.4l1.8 1.8l-1.8 1.8l-1.8 -1.8zM115.1 685.0l1.8 1.8l-1.8 1.8l-1.8 -1.8zM78.0 691.9l1.8 1.8l-1.8 1.8l-1.8 -1.8zM90.5 691.2l1.8 1.8l-1.8 1.8l-1.8 -1.8zM102.6 687.9l1.8 1.8l-1.8 1.8l-1.8 -1.8zM115.1 680.4l1.8 1.8l-1.8 1.8l-1.8 -1.8zM78.0 691.6l1.8 1.8l-1.8 1.8l-1.8 -1.8zM90.5 690.8l1.8 1.8l-1.8 1.8l-1.8 -1.8zM102.6 685.9l1.8 1.8l-1.8 1.8l-1.8 -1.8zM115.1 680.6l1.8 1.8l-1.8 1.8l-1.8 -1.8zM78.0 691.6l1.8 1.8l-1.8 1.8l-1.8 -1.8zM90.5 690.3l1.8 1.8l-1.8 1.8l-1.8 -1.8zM102.6 686.4l1.8 1.8l-1.8 1.8l-1.8 -1.8zM115.1 677.4l1.8 1.8l-1.8 1.8l-1.8 -1.8zM78.0 691.4l1.8 1.8l-1.8 1.8l-1.8 -1.8zM90.5 690.3l1.8 1.8l-1.8 1.8l-1.8 -1.8zM102.6 686.7l1.8 1.8l-1.8 1.8l-1.8 -1.8zM115.1 680.7l1.8 1.8l-1.8 1.8l-1.8 -1.8zM78.0 691.6l1.8 1.8l-1.8 1.8l-1.8 -1.8zM90.5 690.4l1.8 1.8l-1.8 1.8l-1.8 -1.8zM102.6 684.8l1.8 1.8l-1.8 1.8l-1.8 -1.8zM115.1 677.4l1.8 1.8l-1.8 1.8l-1.8 -1.8z" fill="#900a30"/>
<path d="M78.0 690.5L90.5 678.8L102.6 640.0L115.1 616.4" fill="none" stroke="#9a2c4c" stroke-width="0.8"/>
<path d="M78.0 692.4L90.5 688.2L102.6 664.6L115.1 634.5" fill="none" stroke="#a5143c" stroke-width="1.3"/>
<path d="M78.0 693.4L90.5 692.4L102.6 682.5L115.1 669.0" fill="none" stroke="#a5143c" stroke-width="1.3"/>
<path d="M78.0 693.4L90.5 692.4L102.6 685.6L115.1 678.8" fill="none" stroke="#a5143c" stroke-width="1.3"/>
<path d="M78.0 688.5l2.0 2.0l-2.0 2.0l-2.0 -2.0zM90.5 676.8l2.0 2.0l-2.0 2.0l-2.0 -2.0zM102.6 638.0l2.0 2.0l-2.0 2.0l-2.0 -2.0zM115.1 614.4l2.0 2.0l-2.0 2.0l-2.0 -2.0zM78.0 690.4l2.0 2.0l-2.0 2.0l-2.0 -2.0zM90.5 686.2l2.0 2.0l-2.0 2.0l-2.0 -2.0zM102.6 662.6l2.0 2.0l-2.0 2.0l-2.0 -2.0zM115.1 632.5l2.0 2.0l-2.0 2.0l-2.0 -2.0zM78.0 691.4l2.0 2.0l-2.0 2.0l-2.0 -2.0zM90.5 690.4l2.0 2.0l-2.0 2.0l-2.0 -2.0zM102.6 680.5l2.0 2.0l-2.0 2.0l-2.0 -2.0zM115.1 667.0l2.0 2.0l-2.0 2.0l-2.0 -2.0zM78.0 691.4l2.0 2.0l-2.0 2.0l-2.0 -2.0zM90.5 690.4l2.0 2.0l-2.0 2.0l-2.0 -2.0zM102.6 683.6l2.0 2.0l-2.0 2.0l-2.0 -2.0zM115.1 676.8l2.0 2.0l-2.0 2.0l-2.0 -2.0z" fill="#760c2c"/>
<path d="M65.9 612.7V697.6M62.7 694.4H124.4M62.7 674.9H65.9M62.7 655.4H65.9M62.7 635.9H65.9M62.7 616.4H65.9M86.5 694.4V697.6M106.7 694.4V697.6" stroke="#000" stroke-width="1.45" fill="none"/>
<text x="56.1" y="697.0" font-size="7.2" text-anchor="middle" fill="#222">0</text>
<text x="56.1" y="677.5" font-size="7.2" text-anchor="middle" fill="#222">1</text>
<text x="56.1" y="658.0" font-size="7.2" text-anchor="middle" fill="#222">2</text>
<text x="56.1" y="638.5" font-size="7.2" text-anchor="middle" fill="#222">3</text>
<text x="56.1" y="619.0" font-size="7.2" text-anchor="middle" fill="#222">4</text>
<text x="65.9" y="708.5" font-size="7.2" text-anchor="middle" fill="#222">0.1</text>
<text x="86.5" y="708.5" font-size="7.2" text-anchor="middle" fill="#222">1</text>
<text x="106.7" y="708.5" font-size="7.2" text-anchor="middle" fill="#222">10</text>
<text x="62.1" y="609.2" font-size="8" fill="#222">OD<tspan font-size="4.4" dy="2.8" fill="#444">405</tspan></text>
<line x1="149.3" y1="683.4" x2="207.8" y2="683.4" stroke="#1a1a1a" stroke-width="0.95" stroke-dasharray="2.2 0.5"/>
<path d="M161.3 693.2L173.7 693.0L186.0 693.2L198.4 692.1M161.3 692.9L173.7 693.1L186.0 692.0L198.4 692.1M161.3 693.2L173.7 692.6L186.0 691.3L198.4 691.5M161.3 692.3L173.7 691.9L186.0 691.6L198.4 692.1M161.3 692.9L173.7 691.5L186.0 689.6L198.4 689.4M161.3 692.4L173.7 691.8L186.0 690.9L198.4 689.0M161.3 692.5L173.7 691.3L186.0 688.5L198.4 687.5M161.3 692.3L173.7 691.9L186.0 689.1L198.4 686.6M161.3 691.8L173.7 690.5L186.0 687.9L198.4 687.2M161.3 691.2L173.7 691.2L186.0 688.2L198.4 685.5M161.3 691.3L173.7 690.4L186.0 686.0L198.4 685.4M161.3 691.1L173.7 689.3L186.0 684.2L198.4 683.6M161.3 691.2L173.7 688.9L186.0 685.1L198.4 682.9M161.3 690.6L173.7 689.1L186.0 684.6L198.4 681.5M161.3 690.7L173.7 688.4L186.0 683.0L198.4 681.7M161.3 690.3L173.7 688.8L186.0 683.2L198.4 679.4M161.3 690.3L173.7 689.2L186.0 683.9L198.4 679.4M161.3 690.3L173.7 688.5L186.0 682.5L198.4 679.4" fill="none" stroke="#b00a36" stroke-width="1.15" stroke-linejoin="round"/>
<path d="M161.3 691.4l1.8 1.8l-1.8 1.8l-1.8 -1.8zM173.7 691.2l1.8 1.8l-1.8 1.8l-1.8 -1.8zM186.0 691.4l1.8 1.8l-1.8 1.8l-1.8 -1.8zM198.4 690.3l1.8 1.8l-1.8 1.8l-1.8 -1.8zM161.3 691.1l1.8 1.8l-1.8 1.8l-1.8 -1.8zM173.7 691.3l1.8 1.8l-1.8 1.8l-1.8 -1.8zM186.0 690.2l1.8 1.8l-1.8 1.8l-1.8 -1.8zM198.4 690.3l1.8 1.8l-1.8 1.8l-1.8 -1.8zM161.3 691.4l1.8 1.8l-1.8 1.8l-1.8 -1.8zM173.7 690.8l1.8 1.8l-1.8 1.8l-1.8 -1.8zM186.0 689.5l1.8 1.8l-1.8 1.8l-1.8 -1.8zM198.4 689.7l1.8 1.8l-1.8 1.8l-1.8 -1.8zM161.3 690.5l1.8 1.8l-1.8 1.8l-1.8 -1.8zM173.7 690.1l1.8 1.8l-1.8 1.8l-1.8 -1.8zM186.0 689.8l1.8 1.8l-1.8 1.8l-1.8 -1.8zM198.4 690.3l1.8 1.8l-1.8 1.8l-1.8 -1.8zM161.3 691.1l1.8 1.8l-1.8 1.8l-1.8 -1.8zM173.7 689.7l1.8 1.8l-1.8 1.8l-1.8 -1.8zM186.0 687.8l1.8 1.8l-1.8 1.8l-1.8 -1.8zM198.4 687.6l1.8 1.8l-1.8 1.8l-1.8 -1.8zM161.3 690.6l1.8 1.8l-1.8 1.8l-1.8 -1.8zM173.7 690.0l1.8 1.8l-1.8 1.8l-1.8 -1.8zM186.0 689.1l1.8 1.8l-1.8 1.8l-1.8 -1.8zM198.4 687.2l1.8 1.8l-1.8 1.8l-1.8 -1.8zM161.3 690.7l1.8 1.8l-1.8 1.8l-1.8 -1.8zM173.7 689.5l1.8 1.8l-1.8 1.8l-1.8 -1.8zM186.0 686.7l1.8 1.8l-1.8 1.8l-1.8 -1.8zM198.4 685.7l1.8 1.8l-1.8 1.8l-1.8 -1.8zM161.3 690.5l1.8 1.8l-1.8 1.8l-1.8 -1.8zM173.7 690.1l1.8 1.8l-1.8 1.8l-1.8 -1.8zM186.0 687.3l1.8 1.8l-1.8 1.8l-1.8 -1.8zM198.4 684.8l1.8 1.8l-1.8 1.8l-1.8 -1.8zM161.3 690.0l1.8 1.8l-1.8 1.8l-1.8 -1.8zM173.7 688.7l1.8 1.8l-1.8 1.8l-1.8 -1.8zM186.0 686.1l1.8 1.8l-1.8 1.8l-1.8 -1.8zM198.4 685.4l1.8 1.8l-1.8 1.8l-1.8 -1.8zM161.3 689.4l1.8 1.8l-1.8 1.8l-1.8 -1.8zM173.7 689.4l1.8 1.8l-1.8 1.8l-1.8 -1.8zM186.0 686.4l1.8 1.8l-1.8 1.8l-1.8 -1.8zM198.4 683.7l1.8 1.8l-1.8 1.8l-1.8 -1.8zM161.3 689.5l1.8 1.8l-1.8 1.8l-1.8 -1.8zM173.7 688.6l1.8 1.8l-1.8 1.8l-1.8 -1.8zM186.0 684.2l1.8 1.8l-1.8 1.8l-1.8 -1.8zM198.4 683.6l1.8 1.8l-1.8 1.8l-1.8 -1.8zM161.3 689.3l1.8 1.8l-1.8 1.8l-1.8 -1.8zM173.7 687.5l1.8 1.8l-1.8 1.8l-1.8 -1.8zM186.0 682.4l1.8 1.8l-1.8 1.8l-1.8 -1.8zM198.4 681.8l1.8 1.8l-1.8 1.8l-1.8 -1.8zM161.3 689.4l1.8 1.8l-1.8 1.8l-1.8 -1.8zM173.7 687.1l1.8 1.8l-1.8 1.8l-1.8 -1.8zM186.0 683.3l1.8 1.8l-1.8 1.8l-1.8 -1.8zM198.4 681.1l1.8 1.8l-1.8 1.8l-1.8 -1.8zM161.3 688.8l1.8 1.8l-1.8 1.8l-1.8 -1.8zM173.7 687.3l1.8 1.8l-1.8 1.8l-1.8 -1.8zM186.0 682.8l1.8 1.8l-1.8 1.8l-1.8 -1.8zM198.4 679.7l1.8 1.8l-1.8 1.8l-1.8 -1.8zM161.3 688.9l1.8 1.8l-1.8 1.8l-1.8 -1.8zM173.7 686.6l1.8 1.8l-1.8 1.8l-1.8 -1.8zM186.0 681.2l1.8 1.8l-1.8 1.8l-1.8 -1.8zM198.4 679.9l1.8 1.8l-1.8 1.8l-1.8 -1.8zM161.3 688.5l1.8 1.8l-1.8 1.8l-1.8 -1.8zM173.7 687.0l1.8 1.8l-1.8 1.8l-1.8 -1.8zM186.0 681.4l1.8 1.8l-1.8 1.8l-1.8 -1.8zM198.4 677.6l1.8 1.8l-1.8 1.8l-1.8 -1.8zM161.3 688.5l1.8 1.8l-1.8 1.8l-1.8 -1.8zM173.7 687.4l1.8 1.8l-1.8 1.8l-1.8 -1.8zM186.0 682.1l1.8 1.8l-1.8 1.8l-1.8 -1.8zM198.4 677.6l1.8 1.8l-1.8 1.8l-1.8 -1.8zM161.3 688.5l1.8 1.8l-1.8 1.8l-1.8 -1.8zM173.7 686.7l1.8 1.8l-1.8 1.8l-1.8 -1.8zM186.0 680.7l1.8 1.8l-1.8 1.8l-1.8 -1.8zM198.4 677.6l1.8 1.8l-1.8 1.8l-1.8 -1.8z" fill="#900a30"/>
<path d="M161.3 689.3L173.7 678.7L186.0 654.5L198.4 630.3" fill="none" stroke="#9a2c4c" stroke-width="0.8"/>
<path d="M161.3 692.2L173.7 689.3L186.0 674.7L198.4 657.8" fill="none" stroke="#a5143c" stroke-width="1.3"/>
<path d="M161.3 692.2L173.7 690.3L186.0 677.5L198.4 659.8" fill="none" stroke="#a5143c" stroke-width="1.3"/>
<path d="M161.3 692.2L173.7 690.3L186.0 678.5L198.4 662.7" fill="none" stroke="#a5143c" stroke-width="1.3"/>
<path d="M161.3 692.4L173.7 690.8L186.0 679.4L198.4 667.3" fill="none" stroke="#a5143c" stroke-width="1.3"/>
<path d="M161.3 692.6L173.7 691.2L186.0 681.4L198.4 670.0" fill="none" stroke="#a5143c" stroke-width="1.3"/>
<path d="M161.3 692.6L173.7 691.2L186.0 683.4L198.4 677.5" fill="none" stroke="#a5143c" stroke-width="1.3"/>
<path d="M161.3 687.3l2.0 2.0l-2.0 2.0l-2.0 -2.0zM173.7 676.7l2.0 2.0l-2.0 2.0l-2.0 -2.0zM186.0 652.5l2.0 2.0l-2.0 2.0l-2.0 -2.0zM198.4 628.3l2.0 2.0l-2.0 2.0l-2.0 -2.0zM161.3 690.2l2.0 2.0l-2.0 2.0l-2.0 -2.0zM173.7 687.3l2.0 2.0l-2.0 2.0l-2.0 -2.0zM186.0 672.7l2.0 2.0l-2.0 2.0l-2.0 -2.0zM198.4 655.8l2.0 2.0l-2.0 2.0l-2.0 -2.0zM161.3 690.2l2.0 2.0l-2.0 2.0l-2.0 -2.0zM173.7 688.3l2.0 2.0l-2.0 2.0l-2.0 -2.0zM186.0 675.5l2.0 2.0l-2.0 2.0l-2.0 -2.0zM198.4 657.8l2.0 2.0l-2.0 2.0l-2.0 -2.0zM161.3 690.2l2.0 2.0l-2.0 2.0l-2.0 -2.0zM173.7 688.3l2.0 2.0l-2.0 2.0l-2.0 -2.0zM186.0 676.5l2.0 2.0l-2.0 2.0l-2.0 -2.0zM198.4 660.7l2.0 2.0l-2.0 2.0l-2.0 -2.0zM161.3 690.4l2.0 2.0l-2.0 2.0l-2.0 -2.0zM173.7 688.8l2.0 2.0l-2.0 2.0l-2.0 -2.0zM186.0 677.4l2.0 2.0l-2.0 2.0l-2.0 -2.0zM198.4 665.3l2.0 2.0l-2.0 2.0l-2.0 -2.0zM161.3 690.6l2.0 2.0l-2.0 2.0l-2.0 -2.0zM173.7 689.2l2.0 2.0l-2.0 2.0l-2.0 -2.0zM186.0 679.4l2.0 2.0l-2.0 2.0l-2.0 -2.0zM198.4 668.0l2.0 2.0l-2.0 2.0l-2.0 -2.0zM161.3 690.6l2.0 2.0l-2.0 2.0l-2.0 -2.0zM173.7 689.2l2.0 2.0l-2.0 2.0l-2.0 -2.0zM186.0 681.4l2.0 2.0l-2.0 2.0l-2.0 -2.0zM198.4 675.5l2.0 2.0l-2.0 2.0l-2.0 -2.0z" fill="#760c2c"/>
<path d="M149.3 611.2V696.4M146.1 693.2H207.8M146.1 673.6H149.3M146.1 653.9H149.3M146.1 634.2H149.3M146.1 614.6H149.3M170.0 693.2V696.4M190.5 693.2V696.4" stroke="#000" stroke-width="1.45" fill="none"/>
<text x="139.5" y="695.8" font-size="7.2" text-anchor="middle" fill="#222">0</text>
<text x="139.5" y="676.2" font-size="7.2" text-anchor="middle" fill="#222">1</text>
<text x="139.5" y="656.5" font-size="7.2" text-anchor="middle" fill="#222">2</text>
<text x="139.5" y="636.9" font-size="7.2" text-anchor="middle" fill="#222">3</text>
<text x="139.5" y="617.2" font-size="7.2" text-anchor="middle" fill="#222">4</text>
<text x="149.3" y="707.4" font-size="7.2" text-anchor="middle" fill="#222">0.1</text>
<text x="170.0" y="707.4" font-size="7.2" text-anchor="middle" fill="#222">1</text>
<text x="190.5" y="707.4" font-size="7.2" text-anchor="middle" fill="#222">10</text>
<text x="145.5" y="607.9" font-size="8" fill="#222">OD<tspan font-size="4.4" dy="2.8" fill="#444">405</tspan></text>
<line x1="335.7" y1="683.8" x2="394.4" y2="683.8" stroke="#7c7c7c" stroke-width="1.3" stroke-dasharray="1.8 0.8"/>
<path d="M347.6 693.3L360.0 693.6L372.4 692.9L384.6 692.1M347.6 693.6L360.0 693.6L372.4 692.8L384.6 693.6M347.6 693.5L360.0 692.8L372.4 691.4L384.6 693.6M347.6 693.6L360.0 693.4L372.4 691.0L384.6 693.5M347.6 693.4L360.0 693.3L372.4 692.7L384.6 689.3M347.6 693.3L360.0 692.8L372.4 690.3L384.6 687.0M347.6 693.1L360.0 692.3L372.4 690.3L384.6 685.3M347.6 693.1L360.0 692.5L372.4 689.7L384.6 683.5M347.6 692.8L360.0 692.2L372.4 690.2L384.6 686.7M347.6 692.9L360.0 691.5L372.4 687.7L384.6 681.8M347.6 692.7L360.0 691.7L372.4 689.1L384.6 683.4M347.6 692.8L360.0 691.8L372.4 688.7L384.6 684.7M347.6 692.3L360.0 692.0L372.4 686.4L384.6 679.9M347.6 692.6L360.0 691.4L372.4 685.3L384.6 677.1M347.6 692.3L360.0 690.9L372.4 685.7L384.6 680.4M347.6 692.2L360.0 690.9L372.4 686.2L384.6 676.1M347.6 692.2L360.0 690.7L372.4 686.7L384.6 677.4M347.6 692.3L360.0 690.7L372.4 684.8L384.6 676.0" fill="none" stroke="#b00a36" stroke-width="1.15" stroke-linejoin="round"/>
<path d="M347.6 691.5l1.8 1.8l-1.8 1.8l-1.8 -1.8zM360.0 691.8l1.8 1.8l-1.8 1.8l-1.8 -1.8zM372.4 691.1l1.8 1.8l-1.8 1.8l-1.8 -1.8zM384.6 690.3l1.8 1.8l-1.8 1.8l-1.8 -1.8zM347.6 691.8l1.8 1.8l-1.8 1.8l-1.8 -1.8zM360.0 691.8l1.8 1.8l-1.8 1.8l-1.8 -1.8zM372.4 691.0l1.8 1.8l-1.8 1.8l-1.8 -1.8zM384.6 691.8l1.8 1.8l-1.8 1.8l-1.8 -1.8zM347.6 691.7l1.8 1.8l-1.8 1.8l-1.8 -1.8zM360.0 691.0l1.8 1.8l-1.8 1.8l-1.8 -1.8zM372.4 689.6l1.8 1.8l-1.8 1.8l-1.8 -1.8zM384.6 691.8l1.8 1.8l-1.8 1.8l-1.8 -1.8zM347.6 691.8l1.8 1.8l-1.8 1.8l-1.8 -1.8zM360.0 691.6l1.8 1.8l-1.8 1.8l-1.8 -1.8zM372.4 689.2l1.8 1.8l-1.8 1.8l-1.8 -1.8zM384.6 691.7l1.8 1.8l-1.8 1.8l-1.8 -1.8zM347.6 691.6l1.8 1.8l-1.8 1.8l-1.8 -1.8zM360.0 691.5l1.8 1.8l-1.8 1.8l-1.8 -1.8zM372.4 690.9l1.8 1.8l-1.8 1.8l-1.8 -1.8zM384.6 687.5l1.8 1.8l-1.8 1.8l-1.8 -1.8zM347.6 691.5l1.8 1.8l-1.8 1.8l-1.8 -1.8zM360.0 691.0l1.8 1.8l-1.8 1.8l-1.8 -1.8zM372.4 688.5l1.8 1.8l-1.8 1.8l-1.8 -1.8zM384.6 685.2l1.8 1.8l-1.8 1.8l-1.8 -1.8zM347.6 691.3l1.8 1.8l-1.8 1.8l-1.8 -1.8zM360.0 690.5l1.8 1.8l-1.8 1.8l-1.8 -1.8zM372.4 688.5l1.8 1.8l-1.8 1.8l-1.8 -1.8zM384.6 683.5l1.8 1.8l-1.8 1.8l-1.8 -1.8zM347.6 691.3l1.8 1.8l-1.8 1.8l-1.8 -1.8zM360.0 690.7l1.8 1.8l-1.8 1.8l-1.8 -1.8zM372.4 687.9l1.8 1.8l-1.8 1.8l-1.8 -1.8zM384.6 681.7l1.8 1.8l-1.8 1.8l-1.8 -1.8zM347.6 691.0l1.8 1.8l-1.8 1.8l-1.8 -1.8zM360.0 690.4l1.8 1.8l-1.8 1.8l-1.8 -1.8zM372.4 688.4l1.8 1.8l-1.8 1.8l-1.8 -1.8zM384.6 684.9l1.8 1.8l-1.8 1.8l-1.8 -1.8zM347.6 691.1l1.8 1.8l-1.8 1.8l-1.8 -1.8zM360.0 689.7l1.8 1.8l-1.8 1.8l-1.8 -1.8zM372.4 685.9l1.8 1.8l-1.8 1.8l-1.8 -1.8zM384.6 680.0l1.8 1.8l-1.8 1.8l-1.8 -1.8zM347.6 690.9l1.8 1.8l-1.8 1.8l-1.8 -1.8zM360.0 689.9l1.8 1.8l-1.8 1.8l-1.8 -1.8zM372.4 687.3l1.8 1.8l-1.8 1.8l-1.8 -1.8zM384.6 681.6l1.8 1.8l-1.8 1.8l-1.8 -1.8zM347.6 691.0l1.8 1.8l-1.8 1.8l-1.8 -1.8zM360.0 690.0l1.8 1.8l-1.8 1.8l-1.8 -1.8zM372.4 686.9l1.8 1.8l-1.8 1.8l-1.8 -1.8zM384.6 682.9l1.8 1.8l-1.8 1.8l-1.8 -1.8zM347.6 690.5l1.8 1.8l-1.8 1.8l-1.8 -1.8zM360.0 690.2l1.8 1.8l-1.8 1.8l-1.8 -1.8zM372.4 684.6l1.8 1.8l-1.8 1.8l-1.8 -1.8zM384.6 678.1l1.8 1.8l-1.8 1.8l-1.8 -1.8zM347.6 690.8l1.8 1.8l-1.8 1.8l-1.8 -1.8zM360.0 689.6l1.8 1.8l-1.8 1.8l-1.8 -1.8zM372.4 683.5l1.8 1.8l-1.8 1.8l-1.8 -1.8zM384.6 675.3l1.8 1.8l-1.8 1.8l-1.8 -1.8zM347.6 690.5l1.8 1.8l-1.8 1.8l-1.8 -1.8zM360.0 689.1l1.8 1.8l-1.8 1.8l-1.8 -1.8zM372.4 683.9l1.8 1.8l-1.8 1.8l-1.8 -1.8zM384.6 678.6l1.8 1.8l-1.8 1.8l-1.8 -1.8zM347.6 690.4l1.8 1.8l-1.8 1.8l-1.8 -1.8zM360.0 689.1l1.8 1.8l-1.8 1.8l-1.8 -1.8zM372.4 684.4l1.8 1.8l-1.8 1.8l-1.8 -1.8zM384.6 674.3l1.8 1.8l-1.8 1.8l-1.8 -1.8zM347.6 690.4l1.8 1.8l-1.8 1.8l-1.8 -1.8zM360.0 688.9l1.8 1.8l-1.8 1.8l-1.8 -1.8zM372.4 684.9l1.8 1.8l-1.8 1.8l-1.8 -1.8zM384.6 675.6l1.8 1.8l-1.8 1.8l-1.8 -1.8zM347.6 690.5l1.8 1.8l-1.8 1.8l-1.8 -1.8zM360.0 688.9l1.8 1.8l-1.8 1.8l-1.8 -1.8zM372.4 683.0l1.8 1.8l-1.8 1.8l-1.8 -1.8zM384.6 674.2l1.8 1.8l-1.8 1.8l-1.8 -1.8z" fill="#900a30"/>
<path d="M347.6 668.8L360.0 639.3L372.4 620.5L384.6 615.4" fill="none" stroke="#a5143c" stroke-width="1.3"/>
<path d="M347.6 684.2L360.0 665.8L372.4 645.9L384.6 624.2" fill="none" stroke="#9a2c4c" stroke-width="0.8"/>
<path d="M347.6 691.1L360.0 685.6L372.4 671.5L384.6 647.1" fill="none" stroke="#a5143c" stroke-width="1.3"/>
<path d="M347.6 691.6L360.0 689.7L372.4 680.3L384.6 635.0" fill="none" stroke="#a5143c" stroke-width="1.3"/>
<path d="M347.6 692.6L360.0 690.7L372.4 683.8L384.6 671.5" fill="none" stroke="#a5143c" stroke-width="1.3"/>
<path d="M347.6 666.8l2.0 2.0l-2.0 2.0l-2.0 -2.0zM360.0 637.3l2.0 2.0l-2.0 2.0l-2.0 -2.0zM372.4 618.5l2.0 2.0l-2.0 2.0l-2.0 -2.0zM384.6 613.4l2.0 2.0l-2.0 2.0l-2.0 -2.0zM347.6 682.2l2.0 2.0l-2.0 2.0l-2.0 -2.0zM360.0 663.8l2.0 2.0l-2.0 2.0l-2.0 -2.0zM372.4 643.9l2.0 2.0l-2.0 2.0l-2.0 -2.0zM384.6 622.2l2.0 2.0l-2.0 2.0l-2.0 -2.0zM347.6 689.1l2.0 2.0l-2.0 2.0l-2.0 -2.0zM360.0 683.6l2.0 2.0l-2.0 2.0l-2.0 -2.0zM372.4 669.5l2.0 2.0l-2.0 2.0l-2.0 -2.0zM384.6 645.1l2.0 2.0l-2.0 2.0l-2.0 -2.0zM347.6 689.6l2.0 2.0l-2.0 2.0l-2.0 -2.0zM360.0 687.7l2.0 2.0l-2.0 2.0l-2.0 -2.0zM372.4 678.3l2.0 2.0l-2.0 2.0l-2.0 -2.0zM384.6 633.0l2.0 2.0l-2.0 2.0l-2.0 -2.0zM347.6 690.6l2.0 2.0l-2.0 2.0l-2.0 -2.0zM360.0 688.7l2.0 2.0l-2.0 2.0l-2.0 -2.0zM372.4 681.8l2.0 2.0l-2.0 2.0l-2.0 -2.0zM384.6 669.5l2.0 2.0l-2.0 2.0l-2.0 -2.0z" fill="#760c2c"/>
<path d="M335.7 612.2V696.8M332.5 693.6H394.4M332.5 674.1H335.7M332.5 654.5H335.7M332.5 635.0H335.7M332.5 615.4H335.7M356.1 693.6V696.8M376.6 693.6V696.8" stroke="#000" stroke-width="1.45" fill="none"/>
<text x="325.9" y="696.2" font-size="7.2" text-anchor="middle" fill="#222">0</text>
<text x="325.9" y="676.7" font-size="7.2" text-anchor="middle" fill="#222">1</text>
<text x="325.9" y="657.1" font-size="7.2" text-anchor="middle" fill="#222">2</text>
<text x="325.9" y="637.6" font-size="7.2" text-anchor="middle" fill="#222">3</text>
<text x="325.9" y="618.0" font-size="7.2" text-anchor="middle" fill="#222">4</text>
<text x="335.7" y="708.1" font-size="7.2" text-anchor="middle" fill="#222">0.1</text>
<text x="356.1" y="708.1" font-size="7.2" text-anchor="middle" fill="#222">1</text>
<text x="376.6" y="708.1" font-size="7.2" text-anchor="middle" fill="#222">10</text>
<text x="384.6" y="708.3" font-size="7.6" fill="#222">µg/mL</text>
<text x="331.9" y="608.3" font-size="8" fill="#222">OD<tspan font-size="4.4" dy="2.8" fill="#444">405</tspan></text>
<path d="M92.8 745.4L92.8 713.8A31.6 31.6 0 0 0 71.46 768.71Z" fill="#a8052f"/>
<circle cx="92.8" cy="745.4" r="31.6" fill="none" stroke="#7a2342" stroke-width="1.3"/>
<circle cx="92.8" cy="745.4" r="9.5" fill="#fff" stroke="#7a2342" stroke-width="1.05"/>
<text x="76.9" y="737.0" font-size="8.2" font-weight="bold" text-anchor="middle" fill="#fff">34.6</text>
<text x="92.8" y="748.3" font-size="8.2" font-weight="bold" text-anchor="middle" fill="#111">26</text>
<text x="106.2" y="762.4" font-size="8.2" font-weight="bold" text-anchor="middle" fill="#111">65.4</text>
<path d="M179.0 744.7L179.0 713.1A31.6 31.6 0 0 0 179.00 776.30Z" fill="#a8052f"/>
<circle cx="179.0" cy="744.7" r="31.6" fill="none" stroke="#7a2342" stroke-width="1.3"/>
<circle cx="179.0" cy="744.7" r="9.5" fill="#fff" stroke="#7a2342" stroke-width="1.05"/>
<text x="160.8" y="737.0" font-size="8.2" font-weight="bold" text-anchor="middle" fill="#fff">50</text>
<text x="179.0" y="747.6" font-size="8.2" font-weight="bold" text-anchor="middle" fill="#111">20</text>
<text x="197.0" y="757.3" font-size="8.2" font-weight="bold" text-anchor="middle" fill="#111">50</text>
<path d="M363.7 744.2L363.7 712.6A31.6 31.6 0 1 0 371.94 774.71Z" fill="#a8052f"/>
<circle cx="363.7" cy="744.2" r="31.6" fill="none" stroke="#7a2342" stroke-width="1.3"/>
<circle cx="363.7" cy="744.2" r="9.5" fill="#fff" stroke="#7a2342" stroke-width="1.05"/>
<text x="347.3" y="759.3" font-size="8.2" font-weight="bold" text-anchor="middle" fill="#fff">54.2</text>
<text x="363.7" y="747.1" font-size="8.2" font-weight="bold" text-anchor="middle" fill="#111">24</text>
<text x="377.3" y="731.6" font-size="8.2" font-weight="bold" text-anchor="middle" fill="#111">45.8</text>
<rect x="115.0" y="791.8" width="8.6" height="8.6" fill="#fff" stroke="#7a2342" stroke-width="1.1"/>
<text x="128.0" y="799.0" font-size="7.6" fill="#222">Non HEp-2 reactive (%)</text>
<rect x="233.8" y="791.5" width="10" height="9.2" fill="#a8052f"/>
<text x="246.5" y="799.0" font-size="7.6" fill="#222">HEp-2 Polyreactive (%)</text>
<rect x="0.75" y="0.75" width="518.5" height="807.5" fill="none" stroke="#000" stroke-width="1.6"/>
</svg>
</body></html>
